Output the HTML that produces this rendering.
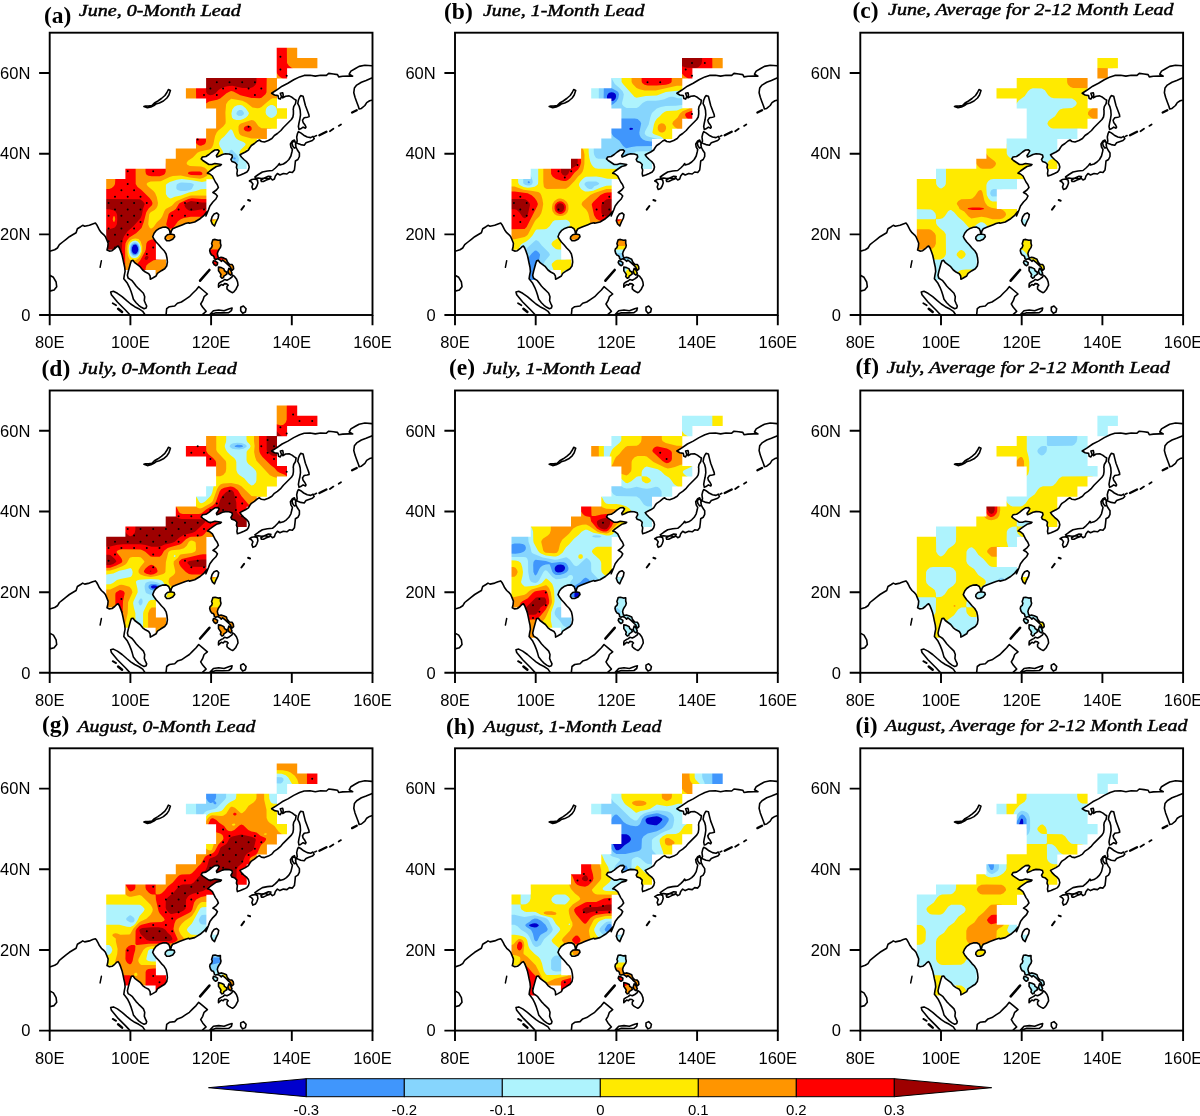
<!DOCTYPE html><html><head><meta charset="utf-8"><title>Figure</title><style>html,body{margin:0;padding:0;background:#fff}svg{display:block}text{font-family:"Liberation Sans",sans-serif;fill:#000}.t{font-family:"Liberation Serif",serif}</style></head><body>
<svg width="1200" height="1116" viewBox="0 0 1200 1116">
<rect width="1200" height="1116" fill="#fff"/>
<defs>
<clipPath id="land"><path d="M-0,218.6 5,217 7.7,215.3 9.7,212 13,209.3 16.4,206.6 19.7,204 23,202 26.4,200 27.7,196 31,194 33,192.6 35,193.6 39.7,192.6 43,191.3 45.7,190.4 47,192 48.4,194.6 49.7,197.3 51.7,200 54.4,202.4 55.7,204 56.8,206.6 58.4,210.6 58.1,214 57.3,217.3 59.7,218.4 62.4,218 65,216 67,214 68.4,213.3 69.7,215.3 71,218.6 72.4,222.6 73.3,226.6 74.1,230.6 75,234.6 75.4,238.6 74.6,242.6 74.1,246 75.7,248 77.7,250.6 79.7,254.6 81.3,258.6 82.6,262.6 83.7,266.6 86.4,270 89,272.6 91.7,274.6 94.4,276 96.4,275.3 97,273.3 95.7,270.6 94.6,268 95,264 93.7,260.6 91.7,258.6 89,256 86.4,253.3 84.4,250.6 82.4,248 80.4,246.6 78.4,245.3 77.7,242.6 78.6,238.6 79.7,234.6 80.8,230.6 81.7,228 83.4,227.7 85,230 87.7,232 90.4,234 93,237.3 95.7,239.3 99,241 100.4,243.3 100.6,246.6 103,245.3 106.4,243.3 107.7,240.6 111.7,238 115,236 117,233.3 117.7,229.3 117.3,225.3 116.4,221.3 114.4,218 111.7,215.3 109,212 106.4,209.3 104.4,206.6 103,204 104.4,200.6 106.4,198 109.7,195.7 113,194.6 116.4,194.4 119,196 120.1,198.6 120.4,200.9 121.3,200 121.7,198 123,196 126.4,194.6 129.7,193.3 133,192 135.7,190.9 139,190 139.7,190.6 145,189.3 150.4,186 154.4,182.6 157.7,178.6 156.2,183.3 158.7,177.3 160.2,173.3 163.2,169.3 166.2,166.3 167.7,163.3 165.9,161.3 163.2,159.8 166.7,157.3 168.7,154.8 167.5,151.8 165.7,149.3 164.2,146.3 162.7,143.3 160.2,141.3 157.7,140.5 160.2,138.3 163.7,135.8 166.7,133.8 170.7,132.8 171.7,131.8 168.7,131.3 165.2,130.8 162.2,131.8 159.2,131.8 156.2,129.8 153.2,127.8 151.5,126.3 152.7,124.3 156.2,123.8 159.2,121.8 162.2,119.3 165.2,117.3 168.2,117.1 169.5,118.3 168.2,120.8 166.7,122.8 167.2,124.3 169.7,123.3 172.7,121.8 175.7,121.1 179.2,121.3 182.2,122.3 182.7,124.3 181.2,126.8 182.2,128.8 185.2,129.8 187.2,131.8 186.7,134.8 187.7,137.3 187.2,140.8 187.7,143.3 190.7,142.3 194.2,140.8 197.2,139.3 198.7,137.3 199.5,134.3 198.7,131.3 196.7,128.8 194.2,126.8 191.7,124.3 190.2,122.1 192.7,120.8 195.7,119.3 198.7,117.3 200.2,114.8 201.7,112.8 204.7,110.8 207.7,108.3 209.7,107.3 211.7,108.8 214.7,109.3 218.7,107.8 222.2,105.8 224.7,102.8 227.7,100.8 231.2,97.8 233.7,94.8 236.2,92.3 238.7,89.8 241.7,86.8 243.2,84.3 243.7,81.3 243.7,77.3 243.5,76.9 244,74 245.8,71 246.4,67.5 244.6,66.4 242.3,64.6 239.4,63.2 235.9,63.5 233,65.2 233.5,62.3 233,60 230.6,60.5 231.8,64 230.6,66.4 228.9,65.8 228.3,62.9 224.8,62.3 221.9,60.5 226.5,57.6 232.4,53.5 238.2,50.6 244,47.1 249.9,44.2 254.5,42.7 260.4,42.5 265.6,43.4 270.9,42.5 276.7,42.7 279,40.7 283.7,41.3 287.8,41.9 289,44.2 293,43.6 298.9,43.4 303,43.4 299.5,41.5 301.2,38.4 305.3,36 309.4,33.7 315.2,32.5 322,33.1 324.8,33.1 324.8,-2 -2,-2 -2,218.6ZM115.7,204 117.7,202 121,201.3 124.4,202 125,204 123,206.6 119.7,208 117,208 115.4,206ZM167,180.2 169,182 168.4,185.3 166.4,189.3 164.8,193.3 162.6,191.3 161.3,188 162.4,184 164.4,181.3ZM163.2,207 165.4,206.7 168.5,207.6 170.7,207.3 170.7,210.5 171.3,212.7 170.7,214.9 169.4,216.7 168.2,218.9 167.6,221.1 168.2,223.6 169.1,225.2 171.3,224.6 173.8,225.2 176.7,226.5 177.3,228.3 178.2,229.9 179.8,231.5 182.3,231.8 183.6,233.7 183.9,236.2 182.6,237.4 181.4,236.2 180.7,234.3 179.2,233 177.6,231.5 176,229.9 174.5,228.6 172.9,227.4 171.6,228.6 170.4,227.4 167.9,226.1 166,226.8 164.7,226.1 164.4,224.3 163.5,223 161.9,222.4 160.7,220.5 160,218 160.4,216.1 161.9,214.9 162.6,212.7 161.9,211.1 162.6,208.9ZM163.8,228 166,228.6 167.9,229.9 167.6,232.1 166,233 164.4,231.8 163.2,229.9ZM168.8,234.3 171.6,234.9 174.2,236.2 174.8,238.1 176.7,239.3 177.3,241.2 175.7,242.4 174.2,243.4 173.8,244.9 172.3,245.6 170.7,243.7 171.3,241.8 170.1,239.9 168.8,238.1ZM179.2,235.5 181,237.4 182.3,240.6 181,242.4 179.2,241.2 178.2,238.7Z"/></clipPath>
<clipPath id="fr"><rect x="0" y="0" width="322.8" height="282.3"/></clipPath>
<g id="coast" fill="none" stroke="#000" stroke-linejoin="round" stroke-linecap="round"><path d="M-0,218.6 5,217 7.7,215.3 9.7,212 13,209.3 16.4,206.6 19.7,204 23,202 26.4,200 27.7,196 31,194 33,192.6 35,193.6 39.7,192.6 43,191.3 45.7,190.4 47,192 48.4,194.6 49.7,197.3 51.7,200 54.4,202.4 55.7,204 56.8,206.6 58.4,210.6 58.1,214 57.3,217.3 59.7,218.4 62.4,218 65,216 67,214 68.4,213.3 69.7,215.3 71,218.6 72.4,222.6 73.3,226.6 74.1,230.6 75,234.6 75.4,238.6 74.6,242.6 74.1,246 75.7,248 77.7,250.6 79.7,254.6 81.3,258.6 82.6,262.6 83.7,266.6 86.4,270 89,272.6 91.7,274.6 94.4,276 96.4,275.3 97,273.3 95.7,270.6 94.6,268 95,264 93.7,260.6 91.7,258.6 89,256 86.4,253.3 84.4,250.6 82.4,248 80.4,246.6 78.4,245.3 77.7,242.6 78.6,238.6 79.7,234.6 80.8,230.6 81.7,228 83.4,227.7 85,230 87.7,232 90.4,234 93,237.3 95.7,239.3 99,241 100.4,243.3 100.6,246.6 103,245.3 106.4,243.3 107.7,240.6 111.7,238 115,236 117,233.3 117.7,229.3 117.3,225.3 116.4,221.3 114.4,218 111.7,215.3 109,212 106.4,209.3 104.4,206.6 103,204 104.4,200.6 106.4,198 109.7,195.7 113,194.6 116.4,194.4 119,196 120.1,198.6 120.4,200.9 121.3,200 121.7,198 123,196 126.4,194.6 129.7,193.3 133,192 135.7,190.9 139,190 139.7,190.6 145,189.3 150.4,186 154.4,182.6 157.7,178.6 156.2,183.3 158.7,177.3 160.2,173.3 163.2,169.3 166.2,166.3 167.7,163.3 165.9,161.3 163.2,159.8 166.7,157.3 168.7,154.8 167.5,151.8 165.7,149.3 164.2,146.3 162.7,143.3 160.2,141.3 157.7,140.5 160.2,138.3 163.7,135.8 166.7,133.8 170.7,132.8 171.7,131.8 168.7,131.3 165.2,130.8 162.2,131.8 159.2,131.8 156.2,129.8 153.2,127.8 151.5,126.3 152.7,124.3 156.2,123.8 159.2,121.8 162.2,119.3 165.2,117.3 168.2,117.1 169.5,118.3 168.2,120.8 166.7,122.8 167.2,124.3 169.7,123.3 172.7,121.8 175.7,121.1 179.2,121.3 182.2,122.3 182.7,124.3 181.2,126.8 182.2,128.8 185.2,129.8 187.2,131.8 186.7,134.8 187.7,137.3 187.2,140.8 187.7,143.3 190.7,142.3 194.2,140.8 197.2,139.3 198.7,137.3 199.5,134.3 198.7,131.3 196.7,128.8 194.2,126.8 191.7,124.3 190.2,122.1 192.7,120.8 195.7,119.3 198.7,117.3 200.2,114.8 201.7,112.8 204.7,110.8 207.7,108.3 209.7,107.3 211.7,108.8 214.7,109.3 218.7,107.8 222.2,105.8 224.7,102.8 227.7,100.8 231.2,97.8 233.7,94.8 236.2,92.3 238.7,89.8 241.7,86.8 243.2,84.3 243.7,81.3 243.7,77.3 243.5,76.9 244,74 245.8,71 246.4,67.5 244.6,66.4 242.3,64.6 239.4,63.2 235.9,63.5 233,65.2 233.5,62.3 233,60 230.6,60.5 231.8,64 230.6,66.4 228.9,65.8 228.3,62.9 224.8,62.3 221.9,60.5 226.5,57.6 232.4,53.5 238.2,50.6 244,47.1 249.9,44.2 254.5,42.7 260.4,42.5 265.6,43.4 270.9,42.5 276.7,42.7 279,40.7 283.7,41.3 287.8,41.9 289,44.2 293,43.6 298.9,43.4 303,43.4 299.5,41.5 301.2,38.4 305.3,36 309.4,33.7 315.2,32.5 322,33.1M-0,242.6 3.7,244.6 6.4,249.3 7,254 4.4,257.3 -0,258.4ZM115.7,204 117.7,202 121,201.3 124.4,202 125,204 123,206.6 119.7,208 117,208 115.4,206ZM167,180.2 169,182 168.4,185.3 166.4,189.3 164.8,193.3 162.6,191.3 161.3,188 162.4,184 164.4,181.3ZM191,274.6 193.7,273.3 196.4,276 195.7,279.3 193,280.6 191,278ZM94.2,73.8 97.7,75.1 101.2,74.3 104.2,72.8 106.2,71.3 109.7,70.3 113.7,68.3 117.2,65.3 119.2,62.3 120.7,57.8 118.7,56.8 117.2,59.8 115.2,62.8 111.7,65.8 108.2,68.3 104.7,70.3 102.2,72.8 98.7,73.3 95.7,73.3ZM251,62.9 253.4,63.5 254.5,68.1 255.7,72.8 257.5,77.5 259.2,82.1 259.4,83.9 257.5,84.5 254.5,85 252.8,87.4 253.4,89.7 255.1,92 256.3,94.4 255.7,95.5 253.4,94.4 251,96.1 249.3,96.7 248.7,93.8 249.3,90.3 250.1,86.8 250.8,82.1 250.5,77.5 249.6,74 248.1,71 248.7,67.5 249.9,64.6ZM199.7,148.3 202.2,146.8 205.2,146.3 207.7,147.3 208.2,150.3 207.2,153.3 205.7,155.8 203.2,156.8 202.2,154.3 203.2,151.3 201.7,149.3ZM211.2,147.3 214.2,145.5 218.7,143.5 221.2,143.8 219.7,146.3 216.7,147.3 213.7,148.8 211.7,148.8ZM205.2,144.3 208.7,141.8 212.7,139.3 217.7,138.3 222.7,137.8 225.7,135.3 228.2,132.8 229.7,130.8 230.2,132.3 233.7,131.3 236.7,129.3 239.2,126.8 241.2,123.3 242.2,119.3 242.7,116.8 241.2,114.3 240.7,111.3 242.7,108.3 244.7,107.3 245.9,110.3 246.2,114.3 247.7,117.3 249.7,120.3 249.7,123.8 248.2,126.8 245.7,128.3 245.2,133.3 244.7,137.3 242.7,139.8 239.7,139.3 237.2,141.3 233.7,140.8 230.2,142.3 227.7,140.8 225.7,143.3 224.7,146.3 222.7,147.3 220.7,145.3 218.7,146.3 215.7,145.3 211.7,145.8 208.7,145.3 206.2,145.5ZM248.7,99 251,100.2 254,102.5 257.5,104.3 261,104.9 263.3,103.7 264.5,106 262.7,107.8 259.2,109 256.3,110.1 254.5,112.5 251,111.9 248.1,110.7 245.8,109.5 244,108.4 242.3,110.1 242.9,113 244.6,115.4 246.4,114.8 245.8,111.9 247.5,108.4 247,104.3 247.8,100.8ZM163.2,207 165.4,206.7 168.5,207.6 170.7,207.3 170.7,210.5 171.3,212.7 170.7,214.9 169.4,216.7 168.2,218.9 167.6,221.1 168.2,223.6 169.1,225.2 171.3,224.6 173.8,225.2 176.7,226.5 177.3,228.3 178.2,229.9 179.8,231.5 182.3,231.8 183.6,233.7 183.9,236.2 182.6,237.4 181.4,236.2 180.7,234.3 179.2,233 177.6,231.5 176,229.9 174.5,228.6 172.9,227.4 171.6,228.6 170.4,227.4 167.9,226.1 166,226.8 164.7,226.1 164.4,224.3 163.5,223 161.9,222.4 160.7,220.5 160,218 160.4,216.1 161.9,214.9 162.6,212.7 161.9,211.1 162.6,208.9ZM163.8,228 166,228.6 167.9,229.9 167.6,232.1 166,233 164.4,231.8 163.2,229.9ZM168.8,234.3 171.6,234.9 174.2,236.2 174.8,238.1 176.7,239.3 177.3,241.2 175.7,242.4 174.2,243.4 173.8,244.9 172.3,245.6 170.7,243.7 171.3,241.8 170.1,239.9 168.8,238.1ZM179.2,235.5 181,237.4 182.3,240.6 181,242.4 179.2,241.2 178.2,238.7ZM169.1,250.6 171,249.3 173.5,248.1 174.8,246.8 177.3,247.5 179.8,246.2 182.3,244.3 182.9,242.4 184.8,243.7 186.7,246.2 187.9,249.3 188.3,252.5 187,255 186.1,256.9 184.2,259.1 182.9,260 181,259.1 178.9,257.8 177.3,256.2 177.3,253.7 178.5,252.5 177,251.2 174.8,250.9 173.5,252.5 171.6,251.8 170.1,253.1 168.8,254.4 168.8,252.2ZM79.7,281.6 75.7,277.3 71.7,273.3 67.7,269.3 64.4,265.3 61.7,262 61,259.3 63.7,258.6 67.7,260.6 72.4,264 77,268 81,271.3 85,274 89,276 93,278.6 95,281.6M116.4,281.6 117,276 119.7,274 125,273.3 127.7,270.6 131.7,269.3 135.7,266.6 139.7,264 143,260.6 146.4,257.3 149,254 149,254 153,257.3 157.7,261.3 154.4,264 153,268 151,271.3 153,274.6 156.4,278.6 153,281.6M160.4,281.6 163.7,278 169,277.3 174.4,278 179.7,276 182.4,275.3 181.7,278 179,280 173,280.2 166.4,280 161.7,281.6M322,45.4 316.4,47.7 311.7,49.5 307,52.4 304.7,55.3 304.1,60 305.3,64.6 307,69.3 308.8,74 309.4,76.3 311.7,75.7 315.2,72.8 317,69.9 319.9,68.1 322,67.5" stroke-width="1.6"/><path d="M51.7,228 50.4,234.6" stroke-width="1.5"/><path d="M63,270.6 66.4,272.6" stroke-width="1.8"/><path d="M68.4,276 72.4,279.3" stroke-width="2.5"/><path d="M150.4,248 159.7,237.3" stroke-width="2.6"/><path d="M198.4,167.3 200.4,168" stroke-width="2"/><path d="M191.7,177 194.4,173.3" stroke-width="2"/><path d="M302.4,79.8 307,77.5" stroke-width="2.4"/><path d="M289,93.2 291.3,91.8" stroke-width="1.8"/><path d="M280.2,98.5 283.7,96.1" stroke-width="1.8"/><path d="M269.7,102.5 276.7,99" stroke-width="2.4"/><path d="M265,103.7 266.8,102.8" stroke-width="1.6"/></g>
<mask id="m0" maskUnits="userSpaceOnUse" x="0" y="0" width="322.8" height="282.3"><path fill="#fff" d="M227,15.1h20.5v10.4h-20.5zM227,25.2h40.7v10.4h-40.7zM227,35.3h10.4v10.4h-10.4zM156.4,45.4h70.9v10.4h-70.9zM136.2,55.5h91.1v10.4h-91.1zM156.4,65.5h70.9v10.4h-70.9zM166.4,75.6h70.9v10.4h-70.9zM166.4,85.7h60.8v10.4h-60.8zM156.4,95.8h60.8v10.4h-60.8zM146.3,105.9h60.8v10.4h-60.8zM126.1,115.9h70.9v10.4h-70.9zM116,126h81v10.4h-81zM75.7,136.1h91.1v10.4h-91.1zM56.5,146.2h100.2v10.4h-100.2zM56.5,156.3h100.2v10.4h-100.2zM56.5,166.4h100.2v10.4h-100.2zM56.5,176.4h100.2v10.4h-100.2zM56.5,186.5h120.3v10.4h-120.3zM56.5,196.6h69.9v10.4h-69.9zM56.5,206.7h49.7v10.4h-49.7zM156.4,206.7h20.5v10.4h-20.5zM65.6,216.8h40.6v10.4h-40.6zM156.4,216.8h20.5v10.4h-20.5zM65.6,226.9h50.7v10.4h-50.7zM156.4,226.9h30.6v10.4h-30.6zM105.9,236.9h10.4v10.4h-10.4zM166.4,236.9h20.5v10.4h-20.5z"/></mask>
<mask id="m1" maskUnits="userSpaceOnUse" x="0" y="0" width="322.8" height="282.3"><path fill="#fff" d="M227,25.2h40.7v10.4h-40.7zM227,35.3h10.4v10.4h-10.4zM156.4,45.4h70.9v10.4h-70.9zM136.2,55.5h91.1v10.4h-91.1zM156.4,65.5h70.9v10.4h-70.9zM166.4,75.6h70.9v10.4h-70.9zM166.4,85.7h60.8v10.4h-60.8zM156.4,95.8h60.8v10.4h-60.8zM146.3,105.9h50.7v10.4h-50.7zM126.1,115.9h70.9v10.4h-70.9zM116,126h81v10.4h-81zM75.7,136.1h91.1v10.4h-91.1zM56.5,146.2h100.2v10.4h-100.2zM56.5,156.3h100.2v10.4h-100.2zM56.5,166.4h100.2v10.4h-100.2zM56.5,176.4h100.2v10.4h-100.2zM56.5,186.5h120.3v10.4h-120.3zM56.5,196.6h69.9v10.4h-69.9zM56.5,206.7h49.7v10.4h-49.7zM156.4,206.7h20.5v10.4h-20.5zM65.6,216.8h40.6v10.4h-40.6zM156.4,216.8h20.5v10.4h-20.5zM65.6,226.9h50.7v10.4h-50.7zM156.4,226.9h30.6v10.4h-30.6zM65.6,236.9h20.5v10.4h-20.5zM105.9,236.9h10.4v10.4h-10.4zM166.4,236.9h20.5v10.4h-20.5z"/></mask>
<mask id="m2" maskUnits="userSpaceOnUse" x="0" y="0" width="322.8" height="282.3"><path fill="#fff" d="M237.1,25.2h20.5v10.4h-20.5zM237.1,35.3h10.4v10.4h-10.4zM156.4,45.4h70.9v10.4h-70.9zM136.2,55.5h91.1v10.4h-91.1zM156.4,65.5h70.9v10.4h-70.9zM166.4,75.6h70.9v10.4h-70.9zM166.4,85.7h60.8v10.4h-60.8zM166.4,95.8h50.7v10.4h-50.7zM146.3,105.9h50.7v10.4h-50.7zM126.1,115.9h70.9v10.4h-70.9zM116,126h81v10.4h-81zM75.7,136.1h91.1v10.4h-91.1zM56.5,146.2h100.2v10.4h-100.2zM56.5,156.3h80v10.4h-80zM56.5,166.4h80v10.4h-80zM56.5,176.4h100.2v10.4h-100.2zM56.5,186.5h120.3v10.4h-120.3zM56.5,196.6h69.9v10.4h-69.9zM56.5,206.7h59.8v10.4h-59.8zM156.4,206.7h20.5v10.4h-20.5zM65.6,216.8h50.7v10.4h-50.7zM156.4,216.8h20.5v10.4h-20.5zM65.6,226.9h50.7v10.4h-50.7zM156.4,226.9h30.6v10.4h-30.6zM65.6,236.9h20.5v10.4h-20.5zM95.8,236.9h20.5v10.4h-20.5zM166.4,236.9h20.5v10.4h-20.5z"/></mask>
<mask id="m3" maskUnits="userSpaceOnUse" x="0" y="0" width="322.8" height="282.3"><path fill="#fff" d="M227,15.1h20.5v10.4h-20.5zM227,25.2h40.7v10.4h-40.7zM227,35.3h10.4v10.4h-10.4zM156.4,45.4h70.9v10.4h-70.9zM136.2,55.5h91.1v10.4h-91.1zM156.4,65.5h70.9v10.4h-70.9zM166.4,75.6h70.9v10.4h-70.9zM166.4,85.7h60.8v10.4h-60.8zM156.4,95.8h60.8v10.4h-60.8zM146.3,105.9h60.8v10.4h-60.8zM126.1,115.9h70.9v10.4h-70.9zM116,126h81v10.4h-81zM75.7,136.1h91.1v10.4h-91.1zM56.5,146.2h100.2v10.4h-100.2zM56.5,156.3h100.2v10.4h-100.2zM56.5,166.4h100.2v10.4h-100.2zM56.5,176.4h100.2v10.4h-100.2zM56.5,186.5h120.3v10.4h-120.3zM56.5,196.6h69.9v10.4h-69.9zM56.5,206.7h49.7v10.4h-49.7zM156.4,206.7h20.5v10.4h-20.5zM65.6,216.8h40.6v10.4h-40.6zM156.4,216.8h20.5v10.4h-20.5zM65.6,226.9h50.7v10.4h-50.7zM156.4,226.9h30.6v10.4h-30.6zM105.9,236.9h10.4v10.4h-10.4zM166.4,236.9h20.5v10.4h-20.5z"/></mask>
<mask id="m4" maskUnits="userSpaceOnUse" x="0" y="0" width="322.8" height="282.3"><path fill="#fff" d="M227,25.2h40.7v10.4h-40.7zM227,35.3h10.4v10.4h-10.4zM156.4,45.4h70.9v10.4h-70.9zM136.2,55.5h91.1v10.4h-91.1zM156.4,65.5h70.9v10.4h-70.9zM166.4,75.6h70.9v10.4h-70.9zM166.4,85.7h60.8v10.4h-60.8zM156.4,95.8h60.8v10.4h-60.8zM146.3,105.9h50.7v10.4h-50.7zM126.1,115.9h70.9v10.4h-70.9zM116,126h81v10.4h-81zM75.7,136.1h91.1v10.4h-91.1zM56.5,146.2h100.2v10.4h-100.2zM56.5,156.3h100.2v10.4h-100.2zM56.5,166.4h100.2v10.4h-100.2zM56.5,176.4h100.2v10.4h-100.2zM56.5,186.5h120.3v10.4h-120.3zM56.5,196.6h69.9v10.4h-69.9zM56.5,206.7h49.7v10.4h-49.7zM156.4,206.7h20.5v10.4h-20.5zM65.6,216.8h40.6v10.4h-40.6zM156.4,216.8h20.5v10.4h-20.5zM65.6,226.9h50.7v10.4h-50.7zM156.4,226.9h30.6v10.4h-30.6zM65.6,236.9h20.5v10.4h-20.5zM105.9,236.9h10.4v10.4h-10.4zM166.4,236.9h20.5v10.4h-20.5z"/></mask>
<mask id="m5" maskUnits="userSpaceOnUse" x="0" y="0" width="322.8" height="282.3"><path fill="#fff" d="M237.1,25.2h20.5v10.4h-20.5zM237.1,35.3h10.4v10.4h-10.4zM156.4,45.4h70.9v10.4h-70.9zM136.2,55.5h91.1v10.4h-91.1zM156.4,65.5h70.9v10.4h-70.9zM166.4,75.6h70.9v10.4h-70.9zM166.4,85.7h60.8v10.4h-60.8zM166.4,95.8h50.7v10.4h-50.7zM146.3,105.9h50.7v10.4h-50.7zM126.1,115.9h70.9v10.4h-70.9zM116,126h81v10.4h-81zM75.7,136.1h91.1v10.4h-91.1zM56.5,146.2h100.2v10.4h-100.2zM56.5,156.3h80v10.4h-80zM56.5,166.4h80v10.4h-80zM56.5,176.4h100.2v10.4h-100.2zM56.5,186.5h120.3v10.4h-120.3zM56.5,196.6h69.9v10.4h-69.9zM56.5,206.7h59.8v10.4h-59.8zM156.4,206.7h20.5v10.4h-20.5zM65.6,216.8h50.7v10.4h-50.7zM156.4,216.8h20.5v10.4h-20.5zM65.6,226.9h50.7v10.4h-50.7zM156.4,226.9h30.6v10.4h-30.6zM65.6,236.9h20.5v10.4h-20.5zM95.8,236.9h20.5v10.4h-20.5zM166.4,236.9h20.5v10.4h-20.5z"/></mask>
<mask id="m6" maskUnits="userSpaceOnUse" x="0" y="0" width="322.8" height="282.3"><path fill="#fff" d="M227,15.1h20.5v10.4h-20.5zM227,25.2h40.7v10.4h-40.7zM227,35.3h10.4v10.4h-10.4zM156.4,45.4h70.9v10.4h-70.9zM136.2,55.5h91.1v10.4h-91.1zM156.4,65.5h70.9v10.4h-70.9zM166.4,75.6h70.9v10.4h-70.9zM166.4,85.7h60.8v10.4h-60.8zM156.4,95.8h60.8v10.4h-60.8zM146.3,105.9h60.8v10.4h-60.8zM126.1,115.9h70.9v10.4h-70.9zM116,126h81v10.4h-81zM75.7,136.1h91.1v10.4h-91.1zM56.5,146.2h100.2v10.4h-100.2zM56.5,156.3h100.2v10.4h-100.2zM56.5,166.4h100.2v10.4h-100.2zM56.5,176.4h100.2v10.4h-100.2zM56.5,186.5h120.3v10.4h-120.3zM56.5,196.6h69.9v10.4h-69.9zM56.5,206.7h49.7v10.4h-49.7zM156.4,206.7h20.5v10.4h-20.5zM65.6,216.8h40.6v10.4h-40.6zM156.4,216.8h20.5v10.4h-20.5zM65.6,226.9h50.7v10.4h-50.7zM156.4,226.9h30.6v10.4h-30.6zM105.9,236.9h10.4v10.4h-10.4zM166.4,236.9h20.5v10.4h-20.5z"/></mask>
<mask id="m7" maskUnits="userSpaceOnUse" x="0" y="0" width="322.8" height="282.3"><path fill="#fff" d="M227,25.2h40.7v10.4h-40.7zM227,35.3h10.4v10.4h-10.4zM156.4,45.4h70.9v10.4h-70.9zM136.2,55.5h91.1v10.4h-91.1zM156.4,65.5h70.9v10.4h-70.9zM166.4,75.6h70.9v10.4h-70.9zM166.4,85.7h60.8v10.4h-60.8zM156.4,95.8h60.8v10.4h-60.8zM146.3,105.9h50.7v10.4h-50.7zM126.1,115.9h70.9v10.4h-70.9zM116,126h81v10.4h-81zM75.7,136.1h91.1v10.4h-91.1zM56.5,146.2h100.2v10.4h-100.2zM56.5,156.3h100.2v10.4h-100.2zM56.5,166.4h100.2v10.4h-100.2zM56.5,176.4h100.2v10.4h-100.2zM56.5,186.5h120.3v10.4h-120.3zM56.5,196.6h69.9v10.4h-69.9zM56.5,206.7h49.7v10.4h-49.7zM156.4,206.7h20.5v10.4h-20.5zM65.6,216.8h40.6v10.4h-40.6zM156.4,216.8h20.5v10.4h-20.5zM65.6,226.9h50.7v10.4h-50.7zM156.4,226.9h30.6v10.4h-30.6zM65.6,236.9h20.5v10.4h-20.5zM105.9,236.9h10.4v10.4h-10.4zM166.4,236.9h20.5v10.4h-20.5z"/></mask>
<mask id="m8" maskUnits="userSpaceOnUse" x="0" y="0" width="322.8" height="282.3"><path fill="#fff" d="M237.1,25.2h20.5v10.4h-20.5zM237.1,35.3h10.4v10.4h-10.4zM156.4,45.4h70.9v10.4h-70.9zM136.2,55.5h91.1v10.4h-91.1zM156.4,65.5h70.9v10.4h-70.9zM166.4,75.6h70.9v10.4h-70.9zM166.4,85.7h60.8v10.4h-60.8zM166.4,95.8h50.7v10.4h-50.7zM146.3,105.9h50.7v10.4h-50.7zM126.1,115.9h70.9v10.4h-70.9zM116,126h81v10.4h-81zM75.7,136.1h91.1v10.4h-91.1zM56.5,146.2h100.2v10.4h-100.2zM56.5,156.3h80v10.4h-80zM56.5,166.4h80v10.4h-80zM56.5,176.4h100.2v10.4h-100.2zM56.5,186.5h120.3v10.4h-120.3zM56.5,196.6h69.9v10.4h-69.9zM56.5,206.7h59.8v10.4h-59.8zM156.4,206.7h20.5v10.4h-20.5zM65.6,216.8h50.7v10.4h-50.7zM156.4,216.8h20.5v10.4h-20.5zM65.6,226.9h50.7v10.4h-50.7zM156.4,226.9h30.6v10.4h-30.6zM65.6,236.9h20.5v10.4h-20.5zM95.8,236.9h20.5v10.4h-20.5zM166.4,236.9h20.5v10.4h-20.5z"/></mask>
</defs>
<g transform="translate(49.7,32.7)"><g clip-path="url(#land)"><g mask="url(#m0)"><rect x="0" y="0" width="322.8" height="282.3" fill="#0000cd"/><path d="M50.4,10.1 272.4,10.1 272.4,252.1 50.4,252.1 50.4,10.1ZM83.7,212.4 82.3,214.8 82.1,217.8 82.7,219.5 83.7,220.8 85.7,221.2 86.8,220.8 88.1,218.8 88.5,216.8 88.2,214.8 86.8,212.4 85.7,211.9 83.7,212.4Z" fill="#4096fc" fill-rule="evenodd"/><path d="M50.4,10.1 272.4,10.1 272.4,252.1 50.4,252.1 50.4,10.1ZM84.7,210.7 82.7,211.7 81.9,212.7 81.2,214.8 81.1,217.8 81.6,219.8 82.7,221.5 83.7,222.2 85.7,222.5 87.8,221.3 88.7,219.8 89.3,217.8 89.3,215.8 88.9,213.7 87.8,211.8 86.8,211 84.7,210.7ZM184.6,124.5 183.6,125 183.5,126 184.6,126.8 185.6,126.6 186,126 185.8,125 184.6,124.5Z" fill="#86d5fd" fill-rule="evenodd"/><path d="M50.4,10.1 272.4,10.1 272.4,252.1 50.4,252.1 50.4,10.1ZM83.7,209.6 81.7,211 80.7,212.7 80.1,215.8 80.3,218.8 80.8,220.8 82.2,222.8 83.7,223.7 85.7,223.8 87.8,222.8 89.3,220.8 90.2,217.8 90.1,214.8 89,211.7 87.8,210.2 85.7,209.4 83.7,209.6ZM130.1,150 127.6,151.2 126.9,152.2 126.6,155.3 126.9,156.3 127.9,157.3 131.1,158.4 136.2,158.2 140.2,157.2 142.1,156.3 144.1,152.2 143.8,151.2 141.2,150.2 132.1,149.7 130.1,150ZM180.6,117.5 179.3,120 178.9,123 179.1,149.2 179.4,151.2 180.1,152.2 181.6,153.2 182.6,153.3 185.2,152.2 186.5,150.2 186.7,134.1 189,128 189.2,126 188,123 182.6,117.4 181.6,117 180.6,117.5ZM189.6,77.4 187.7,78.6 187,79.7 186.7,80.7 187,81.7 188.6,83.1 191.7,83.3 193.9,81.7 194.3,80.7 194.1,79.7 192.7,77.9 191.7,77.4 189.6,77.4Z" fill="#aef3fd" fill-rule="evenodd"/><path d="M50.4,10.1 272.4,10.1 272.4,158.8 263.3,158.8 259.2,157.7 256.4,155.3 254.4,151.2 252.5,149.2 244.6,147.2 241.1,145.6 239.1,144 235,139.1 232,136.6 230,136.1 222.9,136.1 220.9,135.5 218.9,133.9 215.6,129.1 212.8,126.7 209.8,126 194.7,125.9 192.7,125.1 190.6,122 190,120 190,119 191,117 195.4,112.9 195.9,111.9 195.7,110.9 193.7,109.3 188.6,107.3 186.6,105.9 185.2,103.8 182.7,97.8 181.6,96.8 180.6,96.9 179.6,97.8 174.5,103.7 171.5,106.4 169.9,108.9 169.3,110.9 170.1,113.9 172.9,118 173.9,121 174.1,151.2 175.5,155 177.5,157.1 185.2,160.3 188.8,164.3 191.7,166.1 209.8,166.4 212.8,167 215.6,169.4 218.9,174.3 221.9,176.2 242.1,176.7 245.1,178.6 248.4,183.5 251.2,185.8 253.2,186 257.2,184.8 262.3,184.1 272.4,184 272.4,252.1 50.4,252.1 50.4,10.1ZM82.7,208.5 80.7,210 79.4,212.7 79,215.8 79.2,219.8 80.2,222.8 81.7,224.7 83.7,225.4 85.7,225.4 87.8,224.5 90,221.8 91.1,218.8 91.2,214.8 89.9,210.7 88.1,208.7 85.7,207.8 82.7,208.5ZM127.1,147 120.1,149.2 116.9,151.2 116.2,152.2 116.2,161.3 118,164.2 120,165.6 121.1,165.7 125.1,164.1 131.1,162.8 139.2,159.9 146.2,158.3 151.3,156.6 161.4,156 164.4,154.1 165.7,152.2 165.9,151.2 165.2,149.2 162.4,146.9 161.4,146.8 157.4,148.4 152.3,149.4 142.2,147.6 132.1,146.4 127.1,147ZM187.6,72.6 184.6,74 182.6,76.7 181.7,80.7 182.3,84.7 183.6,86.3 186.6,87.3 190.7,87.2 193.7,86.3 196.3,84.7 198.3,82.7 199.2,80.7 199,79.7 196,75.6 192.7,72.9 190.7,72.2 187.6,72.6ZM220.9,72.3 218.9,73.2 217.3,74.6 216.2,76.6 215.9,79.7 216.5,81.7 217.9,83.2 219.9,84.7 221.9,85.3 223.9,84.6 226.1,82.7 227.2,80.7 227.3,78.6 226.7,75.6 225.3,73.6 222.9,72.3 220.9,72.3Z" fill="#ffea00" fill-rule="evenodd"/><path d="M50.4,10.1 272.4,10.1 272.4,65.5 263.3,65.6 257.2,67.2 252.2,67.9 247.1,67.2 241.1,65.6 222.9,65.6 220.9,66.5 216.9,69.7 211.8,74.4 209.8,75.3 207.8,75.5 202.8,74.9 196.7,70 192.7,68 181.6,66 178.3,68.6 176.4,71.6 175.7,79.7 176,88.7 175.8,90.7 173.5,93.7 168.6,97.8 167,99.8 165.4,103.3 163.6,111.9 162.4,114.6 161.4,115.7 159.4,116.8 150.3,118.8 147.7,120 143.2,124.8 138.3,128 137,130.1 137,131.1 137.7,132.1 140.2,133.3 151.3,133.7 155.1,135.1 157.2,137.1 158.4,139.8 158.4,141.2 157,143.2 153.3,145.4 150.3,146 140.2,144.8 131.1,142.9 123.1,143.4 120,144.2 111,148.5 100.9,148.9 97.8,150 96.8,151.2 97.9,153.3 103.8,158.3 105.4,160.3 107.1,164.3 108.3,170.4 107.9,173 106.8,175.4 104.9,177.3 100.9,179.5 99.5,181.5 98.5,191.6 99.6,194.6 100.9,195.8 101.9,195.8 103.9,194.4 107.2,189.6 111,186 112.6,183.5 114.6,178.5 116,176.4 122.1,173 125.1,169.7 127.1,168.2 135.2,164.7 140.2,163 142.2,162.7 170.5,163 175.5,164.1 178.2,166.4 179.2,168.4 179.8,171.4 179.2,174.4 178.2,176.4 176,178.5 170.5,180.6 168.8,182.5 167.3,185.5 165.2,187.5 163,188.5 160.4,189 141.2,189.2 138.2,190.5 136.9,191.6 136.2,193.6 136.3,210.7 137.6,212.7 140.2,213.9 142.2,213.8 144.4,212.7 149.3,208 152.3,206.8 211.8,206.5 214.9,204.5 219,198.6 221.9,196.8 251.2,196.5 254.2,195.3 257.7,191.6 261.3,189.5 263.3,189.1 272.4,189.1 272.4,252.1 50.4,252.1 50.4,10.1ZM85.7,205.7 82.7,206.3 80.7,207.5 78.9,209.7 77.8,212.7 77.6,217.8 78.2,222.8 79.7,226.5 80.7,227.7 81.7,228.1 85.7,227.6 88.8,225.8 91,222.8 92.5,218.8 92.5,213.7 91,208.7 88.8,206.3 85.7,205.7ZM200.3,87.7 201.8,87.2 204,87.7 205.8,89.3 208.8,93.6 211.8,95.5 220.9,95.8 223.9,97.1 225.7,98.8 229,103.7 234.9,107.9 239.1,113.8 245,118 249.2,123.9 255.1,128 258.5,133.1 260.7,135.1 263.3,136.1 272.4,136.1 272.4,153.7 263.3,153.7 261.3,152.7 260,151.2 258.7,148.2 257.2,146.2 255.2,144.8 250.2,142.8 247.6,141.2 245,138.1 239.1,133.1 234.9,128 229,123.9 224.8,118 218.9,113.8 215.6,108.9 213.5,106.9 210.8,105.9 201.8,105.7 192.7,103.4 190.7,102.3 189.5,100.8 188.8,97.8 188.8,93.8 189.6,92 191.2,90.7 200.3,87.7Z" fill="#ff9500" fill-rule="evenodd"/><path d="M133.6,10.1 237.1,10.1 237.3,30.2 239.1,33.1 245,37.3 246.9,40.3 247.1,55.5 251.2,55.5 253.2,56.1 255.9,58.5 256.4,59.5 256.2,60.5 254.2,62.1 252.2,62.6 249.1,61.5 247.4,59.5 247.1,55.5 243.1,55.4 240.1,54.2 238.3,52.4 235,47.5 229.1,43.4 225,37.5 223.5,36.3 221.9,35.8 220.9,36 219.1,37.3 217.1,40.3 216.8,59.5 215.8,61.5 211.8,65.1 209.8,65.5 201.8,65.3 190.7,62.5 183.6,58.8 181.6,58.3 180.6,58.5 176.8,60.5 170.5,65.9 167.5,67 159.4,68.7 156.6,70.6 153.3,74.3 151.3,75.1 150.3,74.9 148.3,73.5 146.5,70.6 146.2,51.4 143.4,40.3 141.6,38.3 138.2,36.7 136.2,35.3 134.7,33.3 134,31.3 133.7,28.2 133.6,10.1ZM50.4,65.5 68.6,65.5 71.6,66.2 74.4,68.6 77.8,73.6 82.7,76.9 85.1,79.7 85.7,82.7 86,151.2 87.9,154.3 91.8,157.4 99.9,165.4 101.9,168.1 102.8,170.4 102.4,172.4 98.9,175.8 96.6,179.5 94,189.6 91.8,195.3 86.4,200.6 79.6,204.7 77.2,207.7 75.8,210.7 75.4,215.8 75.7,252.1 50.4,252.1 50.4,156.3 59.5,156.2 62.1,155.3 64.3,153.3 65.3,151.2 65.6,146.2 65.5,132.1 64.3,129.1 62.5,127.3 60.5,126.3 50.4,126 50.4,65.5ZM64.6,183.3 63.6,183.7 63,186.5 63.6,188.9 64.6,189.4 65.5,186.5 65.2,184.5 64.6,183.3ZM136.2,85.7 141.2,85.9 143.2,87 145,88.7 148.3,93.6 153.3,97 155.1,98.8 156.3,101.8 156.3,108.9 155.6,110.9 154.5,111.9 151.3,113.1 149.3,112.8 147.7,111.9 143.2,107.1 138.2,103.7 134,97.8 129.1,94.5 127.4,92.8 126.6,90.7 126.8,89.7 129.1,87 131.1,85.9 136.2,85.7ZM195.4,93.8 197.7,92.9 200.7,93.4 201.9,94.8 202,96.8 201.3,97.8 199.7,98.7 197.7,98.9 195.7,98.4 194.2,96.8 194.1,95.8 194.4,94.8 195.4,93.8ZM99.3,117 100.9,116.4 102.9,117.2 104.7,119 107.9,123.9 113,127.3 115.4,130.1 115.9,132.1 116,139.1 115.1,141.2 113.7,142.2 110,143.6 101.9,143.6 98.9,143 97.3,142.2 96.3,141.2 95.8,139.1 95.9,122 97.1,119 99.3,117ZM139.8,139.1 142.2,138.7 150.3,138.8 152.3,139.8 152.8,141.2 151.8,142.2 150.3,142.6 141.3,142.2 138.5,141.2 138.2,140.1 139.8,139.1ZM138.6,166.4 142.2,165.5 152.3,166.3 170.5,166.4 172.5,167 174.4,168.4 175.5,169.8 176,171.4 175.2,173.4 173.5,175.2 167.2,178.5 161.4,183.6 159.4,184 141.2,184.1 134.2,185.4 131.1,186.5 128.3,188.5 124.8,193.6 123.1,195.3 121.1,196.1 119,195.3 117.3,193.6 116.5,191.6 119,181.2 120.7,179.5 124.1,177.9 126.1,176.4 129.1,171.4 130.2,170.4 138.6,166.4ZM99.3,207.7 101.9,206.8 108.9,206.7 111,206.9 113,208 114.7,209.7 115.8,211.7 115.8,221.8 114.7,223.8 112,226.2 103.9,227.5 98.7,230.9 96.7,232.9 95.9,235.9 95.8,252.1 85.7,252.1 85.8,235.9 86.2,232.9 90.4,227.9 95.4,218.8 96.1,216.8 96.7,210.7 97.8,208.9 99.3,207.7ZM156.4,216.8 180.6,216.8 182.6,217.4 184.5,218.8 185.6,220.3 186.1,221.8 185.3,223.8 182.6,226.2 180.6,226.8 171.5,227.1 169.5,228.1 167.5,230.3 166.7,231.9 166.5,233.9 166.4,252.1 136.2,252.1 136.2,223.8 136.7,221.8 137.6,220.8 140.2,219.6 146.3,218.5 151.3,217 156.4,216.8Z" fill="#ff0000" fill-rule="evenodd"/><path d="M138.7,10.1 206.8,10.1 206.8,48.4 206.6,50.4 205.8,52 203.4,54.4 200.7,55.4 192.7,55.4 182.6,53.1 177.5,53.6 173.5,54.6 170.5,56 168.5,57.6 165.9,60.5 163.4,62.1 160.4,62.6 157.8,61.5 156.5,59.5 156.3,51.4 155.7,49.4 150.3,43.5 147.7,37.3 146.3,35.3 144.3,33.8 140.9,32.3 139.1,30.2 138.7,28.2 138.7,10.1ZM50.4,166.4 89.8,166.5 90.8,166.8 92.8,168.4 94.6,170.4 95,171.4 93.3,176.4 92.1,182.5 90.8,185.5 83.7,193.6 77.7,198.8 74.2,203.7 73.1,206.7 72.4,210.7 71.9,222.8 70.6,225.8 69.6,226.6 50.4,226.9 50.4,196.6 59.5,196.6 64.6,195.1 66.1,193.6 67.1,191.6 67.6,186.5 67.4,182.5 66.8,180.5 65.6,178.5 64.6,177.7 59.5,176.5 50.4,176.4 50.4,166.4ZM141.2,168.4 152.3,169.8 169.5,169.9 171.5,170.3 172.1,171.4 171.6,172.4 170.5,173 165.4,174.2 160.4,176.3 152.3,176.5 145.3,177.9 141.2,178.3 139.2,177.8 137.1,176.4 135.4,174.4 134.7,172.4 135.2,171.4 136.4,170.4 141.2,168.4ZM95.7,223.8 96.8,223.3 97.8,223.3 98.6,223.8 98.9,224.8 97.8,226.8 96.8,227.2 95.3,226.9 94.8,225.8 95.7,223.8Z" fill="#9e0000" fill-rule="evenodd"/></g></g><g clip-path="url(#land)"><path d="M230.7,24h0M230.7,36.8h0M237,43.1h0M167.1,49.5h0M179.8,49.5h0M192.5,49.5h0M205.2,49.5h0M160.7,55.8h0M173.4,55.8h0M186.2,55.8h0M198.9,55.8h0M211.6,55.8h0M154.3,62.2h0M167.1,62.2h0M205.2,62.2h0M198.9,94h0M148,106.7h0M78,138.5h0M103.5,138.5h0M78,151.2h0M71.7,157.6h0M84.4,157.6h0M65.3,164h0M78,164h0M90.8,164h0M58.9,170.3h0M71.7,170.3h0M84.4,170.3h0M97.1,170.3h0M135.3,170.3h0M148,170.3h0M65.3,176.7h0M78,176.7h0M90.8,176.7h0M128.9,176.7h0M141.6,176.7h0M154.3,176.7h0M58.9,183h0M71.7,183h0M84.4,183h0M122.5,183h0M135.3,183h0M78,189.4h0M90.8,189.4h0M58.9,195.8h0M71.7,195.8h0M84.4,195.8h0M65.3,202.1h0M78,202.1h0M58.9,208.5h0M71.7,208.5h0M65.3,214.8h0M103.5,214.8h0M71.7,221.2h0M97.1,221.2h0M160.7,221.2h0M173.4,221.2h0M71.7,233.9h0M160.7,233.9h0" stroke="#000" stroke-width="2" stroke-linecap="round" fill="none"/></g><g clip-path="url(#fr)"><use href="#coast"/></g><g><rect x="0" y="0" width="322.8" height="282.3" fill="none" stroke="#000" stroke-width="1.9"/><path d="M0,282.3v10.3M80.7,282.3v10.3M161.4,282.3v10.3M242.1,282.3v10.3M322.8,282.3v10.3M0,282.3h-10.6M0,201.7h-10.6M0,121h-10.6M0,40.3h-10.6" stroke="#000" stroke-width="1.9" fill="none"/><text x="0" y="315.4" font-size="16.5" text-anchor="middle">80E</text><text x="80.7" y="315.4" font-size="16.5" text-anchor="middle">100E</text><text x="161.4" y="315.4" font-size="16.5" text-anchor="middle">120E</text><text x="242.1" y="315.4" font-size="16.5" text-anchor="middle">140E</text><text x="322.8" y="315.4" font-size="16.5" text-anchor="middle">160E</text><text x="-19.3" y="288.1" font-size="16.5" text-anchor="end">0</text><text x="-19.3" y="207.5" font-size="16.5" text-anchor="end">20N</text><text x="-19.3" y="126.8" font-size="16.5" text-anchor="end">40N</text><text x="-19.3" y="46.1" font-size="16.5" text-anchor="end">60N</text></g><text class="t" x="-5.7" y="-10.2" font-size="23.5" font-weight="bold">(a)</text><text class="t" x="29.1" y="-17.1" font-size="16.6" font-style="italic" stroke="#000" stroke-width="0.45" textLength="162" lengthAdjust="spacingAndGlyphs">June, 0-Month Lead</text></g>
<g transform="translate(455.0,32.7)"><g clip-path="url(#land)"><g mask="url(#m1)"><rect x="0" y="0" width="322.8" height="282.3" fill="#0000cd"/><path d="M50.4,10.1 272.4,10.1 272.4,252.1 50.4,252.1 50.4,10.1ZM154.3,60 153.3,60.7 152.2,62.5 151.9,64.5 152.3,66.5 153.3,67.7 155.3,68.5 158.4,68 159.4,67.3 160.7,65.5 161.1,63.5 160.7,61.5 159.8,60.5 158.4,59.8 156.4,59.6 154.3,60ZM174.5,95.6 174.5,96.8 175.5,97.3 177.8,96.8 178,95.8 177.5,95.4 175.5,95.1 174.5,95.6Z" fill="#4096fc" fill-rule="evenodd"/><path d="M50.4,10.1 272.4,10.1 272.4,252.1 163,252.1 163.6,230.9 162.4,228.3 161.4,227.4 159.4,226.9 156.4,226.9 143.2,226.9 142.2,227.2 141.2,228 140.2,230.1 139.6,232.9 138.8,242 138.7,252.1 92.4,252.1 92.1,242 90.8,240 85.7,236.9 83.9,233.9 83.4,230.9 85.1,221.8 83.7,219.8 81.7,218 80.7,217.7 79.7,218 76.7,220.8 73.5,224.8 71,226.9 67.6,228.7 60.5,230.2 50.4,230.3 50.4,10.1ZM73.6,148.2 72.6,149.2 73,150.2 73.6,150.5 74.7,150.2 74.9,149.2 73.6,148.2ZM150.3,49 149.3,50.2 148.9,51.4 148.6,68.6 149.2,71.6 150.3,73.6 151.3,74.7 152.3,74.8 158.4,71.3 161.4,68.8 163.3,65.5 164,61.5 163.4,59.7 162.3,58.5 156.7,55.5 155.6,54.4 152.8,49.4 151.3,48.7 150.3,49ZM156.4,85.7 153.3,85.7 151.3,86.2 147.5,89.7 147,90.7 147,91.8 149.3,94.5 154.3,97.9 158.5,103.8 164.4,108 167.7,112.9 169.9,114.9 171.5,115.5 172.5,115.4 176.5,114.3 181.6,113.5 199.7,113.4 201.5,112.9 202.5,111.9 202.6,110.9 201.8,109.8 199.7,109.2 190.7,108.1 187.9,106.9 185.8,104.9 184.6,102.4 184.3,99.8 186.2,90.7 185.3,88.7 182.6,86.3 179.6,85.7 156.4,85.7Z" fill="#86d5fd" fill-rule="evenodd"/><path d="M50.4,10.1 272.4,10.1 272.4,252.1 166.4,252.1 166.6,241 168,234.9 170.1,228.9 171.5,227.1 172.5,226.4 181.6,224 182.9,222.8 183,221.8 181.6,220.5 179.6,220.2 155.3,220.2 142.2,220.2 140.4,220.8 139.1,221.8 137.4,225.8 133.8,242 133.6,252.1 95.8,252.1 95.8,243 95.4,241 93.3,236.9 89.8,233.5 88.8,231.9 88.8,230.9 89.8,228.6 94.6,222.8 94.9,221.8 93.8,219.8 86.8,212.7 83.7,208.9 81.7,207.5 80.7,207.6 79.7,208.3 72.6,214.8 70.1,217.8 67.2,222.8 64.6,225 60.5,226.7 50.4,226.9 50.4,10.1ZM70.6,137.1 69.6,138.1 68.3,141.2 68.2,150.2 68.8,151.2 70.6,152.4 72.6,152.9 74.6,152.8 76.1,152.2 77.2,151.2 77.8,149.2 77.4,147.2 74.6,139.5 72.6,137.4 71.6,137 70.6,137.1ZM150.3,43.2 148.3,43.9 146.3,45.4 144.8,47.4 143.9,50.4 143.8,70.6 145.6,80.7 144.2,82.7 141.2,85.2 139.2,85.7 133.2,85.7 131.1,86.2 129.8,87.7 129.1,89.7 129.1,90.7 130.1,92.2 136.2,95.8 138.2,99.2 138.7,101.8 138.8,120 139.2,122 140.2,124.1 141.2,125.3 143.2,126 170.5,126 173.1,125 177.5,120.6 181.6,118.7 200.7,118.4 203.8,117.4 205.1,115.9 206.4,112.9 206.5,110.9 205.5,108.9 203.8,107.2 201.8,106 194.7,104.3 191.7,103.2 190.2,101.8 189.7,100.8 190,98.8 193.7,91.8 195.3,84.7 196.7,80.7 197.4,79.7 201.8,75.8 205.8,74.2 210.8,73.2 220.9,73.1 231,71.7 232.5,70.6 232.8,69.6 232,66.6 231,65.8 230,65.6 222.9,65.5 217.9,64 215.9,64 213.7,64.5 209.3,66.5 204.8,67.6 200.7,68.1 192.7,68.1 190.7,68.5 187.6,70.2 183.6,74.3 181.6,75.4 171.5,75.4 168.6,73.6 167.1,71.6 167.1,69.6 168.2,65.5 168.8,61.5 167.6,58.5 164.8,55.5 159.8,51.4 156.4,45.4 153.3,43.5 150.3,43.2ZM131.1,149.2 129.9,150.2 129.5,151.2 129.7,152.2 132.2,155.3 134.2,156.3 136.6,156.3 138,155.3 139.2,153.6 142.7,152.2 144.1,151.2 144,150.2 141.2,148.9 133.2,148.8 131.1,149.2Z" fill="#aef3fd" fill-rule="evenodd"/><path d="M166.4,10.1 272.4,10.1 272.4,156.3 262.3,156 259.2,154.1 256,149.2 253.2,146.8 251.2,146.3 243.1,146.1 240.1,144.9 238.3,143.2 235,138.3 229.1,134.1 225,128.2 219,124 215.6,119 211.8,115.4 210.8,113.5 209.4,107.9 207.8,105.2 205.5,103.8 199.7,101.8 198,100.8 197.4,99.8 198.9,91.8 200,88.7 201.8,86 204.8,83.5 207.3,80.7 209.8,79 211.8,78.3 221.9,77.8 226,76 233,73.6 234.2,72.6 235.5,70.6 236.6,66.5 237.7,64.5 239.1,63.3 242.3,61.5 242.7,60.5 242.2,59.5 240.1,58.8 232,58 221.9,58 210.8,59.2 201.8,62.8 190.7,63.2 181.6,65.1 179.6,64.3 168,51.4 166.6,49.4 166.4,10.1ZM89.2,83.7 92.8,83.5 101.9,85.6 119,85.7 121.1,86.2 121.6,86.7 122.9,88.7 125.3,94.8 127.4,96.8 131.5,98.8 133.3,100.8 133.6,102.8 133.7,120 134.3,125 135.3,129.1 136.7,132.1 138.3,134.1 140.2,135.5 143.2,136.1 171.5,136.4 174.5,138.3 176.3,141.2 176.6,149.2 177.2,151.2 187.1,161.3 189.6,162.9 192.7,163.8 209.8,163.8 212.8,164.2 214.9,164.9 216.9,166.4 218.3,168.4 219.9,171.8 221.9,173.6 223.9,173.9 240.1,173.9 243.1,174.2 245.1,175 247.1,176.4 248.6,178.5 250.2,181.8 252.2,183.7 263.3,186.5 272.4,186.5 272.4,252.1 169.9,252.1 170,242 171.5,237.9 177.5,231.5 180.4,229.9 184.6,228.3 186.6,226.9 188.1,224.8 188.7,222.8 188.1,220.8 184.6,218 181.6,216.9 176.5,216.8 143.2,216.8 141.2,216.9 138.7,217.8 135.6,219.8 133.9,221.8 132.4,232.9 131.1,235.8 130.1,236.6 128.1,236.9 113,236.9 110,237.6 107.2,240 106.2,242 105.9,252.1 99.3,252.1 99.1,241 98.4,236.9 96.8,232.9 96.7,231.9 97,230.9 99.9,228 101.9,227 110,226.8 112,226.2 114,224.7 115.2,222.8 115.3,221.8 114.8,220.8 111,217.2 108.9,216.8 102.9,216.8 100.9,216.3 97.9,213.7 96.5,211.7 96.6,210.7 97.8,208.9 103.8,204.7 107.9,198.8 112,195.5 114.8,192.6 115.3,191.6 114.7,189.6 113,187.9 111,187.1 99.9,187.5 97.8,188.8 94.6,193.6 91.8,196 89.8,196.5 81.7,196.8 80.7,197.5 77.5,202.7 74.6,206.1 71.6,208.5 67.4,210.7 65.6,212.3 64.4,214.8 63,220.8 61.5,222.7 59.5,223.4 50.4,223.4 50.4,126 60.5,126.3 63.4,128 64.9,130.1 65,132.1 63.5,138.1 63,143.2 63.2,150.2 64.6,152.2 68.6,154.3 72.6,155 75.7,154.9 79.7,154 82.3,152.2 82.9,151.2 83.2,149.2 83.3,90.7 84.9,86.7 86.8,84.9 89.2,83.7ZM131.1,144 129.1,145.1 126.7,147.2 125,149.2 124,151.2 124.2,153.3 126,156.3 128.1,157.9 130.1,158.7 133.2,158.8 138.2,158 145.3,155 151.3,153 162.4,152.5 164.9,151.2 165.5,150.2 164.3,148.2 161.4,146.4 152.3,146.1 146.3,144.5 141.2,143.7 131.1,144Z" fill="#ffea00" fill-rule="evenodd"/><path d="M176.5,10.1 272.4,10.1 272.4,136.1 263.3,136.1 260.3,134.8 258.5,133.1 255.2,128.2 249.3,124 245.1,118.1 239.2,113.9 235,108 229.1,103.8 225,97.9 219.9,94.5 217.6,91.8 217.3,90.7 218.2,88.7 222.6,84.7 225,80.7 227.6,78.6 234,75.9 236.7,73.6 240.1,67.4 245.9,62.5 246.6,60.5 245.9,58.5 244.1,56.7 242.1,55.6 231,53 221.9,53.1 200.7,57.9 189.6,57.7 184.6,56.6 181.6,55.2 177.7,51.4 176.6,49.4 176.5,10.1ZM89.3,89.7 90.8,88.8 91.8,88.8 97.8,91.6 103.9,93.1 105.9,94.1 107.9,96.3 110,101.2 111,102.1 115,103.6 116.8,104.9 118.3,106.9 120,111.2 121.1,112.2 126.1,114.3 127.8,115.9 128.7,118 129.5,122 129.4,131.1 128.6,136.1 127.5,139.1 126.1,141 123.1,143.7 119.5,148.2 114,154.1 111,156 91.8,156.2 89.8,155.4 88.8,153.7 88.3,149.2 88.3,93.8 88.4,91.8 89.3,89.7ZM205.6,90.7 206.8,90.5 208.8,91 209.8,91.8 211,93.8 211.1,95.8 210.4,97.8 209.6,98.8 207.8,99.8 205.8,99.7 204.8,99.3 203.8,98.5 202.9,96.8 202.7,94.8 203.2,92.8 203.9,91.8 205.6,90.7ZM50.4,154.3 50.4,153.7 59.5,153.8 68.6,157.1 77.7,158.2 83.2,159.3 85,160.3 86.2,162.3 87.4,166.4 88.2,171.4 87.4,176.4 86.2,180.5 84.5,183.5 80.7,187.2 79.7,188.7 72.9,201.7 71.6,203.1 69.6,204.2 59.5,206.6 50.4,206.7 50.4,154.3ZM170.3,154.3 172.5,154.5 175.5,156.9 178.4,160.3 181.6,165.7 184.1,167.4 191.7,168.8 210.8,169 211.8,169.3 213.4,170.4 216.9,176.4 220.3,178.5 222.9,178.9 240.1,179 242.1,179.3 244.1,181.1 245.7,184.5 247.1,186.5 249.2,188 255.2,190.6 256.2,191.6 256.2,193 254.2,195.3 251.2,196.5 221.9,196.8 218.9,198.8 215.6,203.7 212.8,206.1 210.8,206.6 202.8,206.8 200.1,207.7 198,209.7 194.7,214.6 192.7,216 191.7,216.1 185.6,214 179.6,213.4 141.2,213.4 136.2,214.2 131.1,216.4 129.1,216.8 122.1,216.7 120,215.6 117.1,212.7 116.1,210.7 116,203.7 116.5,201.7 119,198.6 121.1,197.1 123.1,196.6 130.1,196.5 132.1,196 134.9,193.6 135.7,191.6 133.5,181.5 132.8,179.5 131.1,176.9 128.3,174.4 126.8,172.4 126.6,171.4 127.4,169.4 135.3,162.3 139.4,160.3 151.3,156.4 161.4,156.2 170.3,154.3ZM102.3,166.4 103.9,165.8 105.9,165.7 108.9,166.7 111.9,169.4 113.3,172.4 113.5,176.4 112.5,179.5 110.8,181.5 107.9,183 104.9,183.4 101.9,182.7 99.6,181.5 97.5,178.5 96.9,175.4 97.5,171.4 99.4,168.4 102.3,166.4Z" fill="#ff9500" fill-rule="evenodd"/><path d="M186.6,10.1 257.2,10.1 257.5,60.5 259.2,63.4 262.3,65.3 272.4,65.5 272.4,115.9 263.3,115.9 260.3,114.7 258.5,112.9 255.1,107.9 249.2,103.7 245,97.8 239.1,93.6 235.8,88.7 231.3,84.7 230.2,82.7 230.1,81.7 231,80.3 238.1,77.5 239.6,75.6 241.1,70.9 242,69.6 247.1,67.2 249.2,65 250.3,61.5 250.3,59.5 249.2,56 247.1,53.8 238.1,50.4 234,46.6 229.1,43.4 226.5,40.3 223.9,38.7 221.9,38.1 218.9,39 217.4,40.3 216.9,42.3 216.6,49.4 215.7,50.4 213.7,51.4 210.8,52.1 201.8,52.9 192.7,52.9 189.6,52 187.3,50.4 186.8,49.4 186.6,47.4 186.6,10.1ZM97.1,96.8 99.9,96.1 101.9,96.4 102.9,97.1 104.7,98.8 107.9,103.7 113.8,107.9 118,113.8 123.9,118 125.9,121 126.1,130.1 124.8,134.1 123.1,136.7 119.4,140.1 115.4,145.2 113,147.3 111,148.4 108.9,148.4 105.9,147.9 100.9,146.2 97.8,144 96.1,141.2 95.8,122 93.5,111.9 93.3,102.8 93.5,100.8 94.4,98.8 97.1,96.8ZM50.4,159.3 50.4,158.8 59.5,158.8 72.6,160.6 76.7,162.5 79.7,165.4 81.8,168.4 82.9,171.4 82.3,173.4 71.6,194.4 69.6,196.4 50.4,196.6 50.4,159.3ZM166.6,159.3 171.5,159.3 173,160.3 174.5,162.3 178.7,171.4 178.4,173.4 176.5,176.4 170.5,180 169.2,181.5 167.9,184.5 166.4,186.5 164.4,188 162.4,188.7 159.4,189.1 150.3,188.9 144.3,187.7 141.2,186.1 139.1,182.5 136.8,172.4 136.8,171.4 138.2,169.4 145.5,162.3 149.6,160.3 152.3,159.7 166.6,159.3ZM102.4,169.4 104.9,168.5 106.9,168.8 108.9,170 110.6,172.4 111,174.4 110.6,177.5 109.3,179.5 107.9,180.5 105.9,181.2 103.9,181.1 101.9,180.1 100.4,178.5 99.6,176.4 99.6,173.4 100.4,171.4 102.4,169.4Z" fill="#ff0000" fill-rule="evenodd"/><path d="M206.8,10.1 247.1,10.1 247.1,28.2 246.5,31.3 243.7,34.3 242.1,35.1 240.1,35.3 232,35.1 227,33.6 220.9,32.5 218.9,31.6 217.1,30.2 213.9,26.5 209,23.2 207.4,21.2 206.9,19.2 206.8,10.1ZM99,100.8 99.9,100.1 100.9,100 101.9,100.6 103.7,104.9 104.9,106.7 106.9,108.1 111.3,109.9 112.2,110.9 113.8,114.9 115,116.8 117,118.2 121.1,119.7 122.2,121 122.6,122 122.7,129.1 122.1,131.8 121.1,133.1 116,136.1 114.6,138.1 113.2,141.2 111,143.1 110,143.1 107.8,142.2 106.1,140.1 105.7,121 104.6,119 100.5,114.9 98.8,111.9 98.4,109.9 98.4,103.8 98.5,101.8 99,100.8ZM50.4,166.4 68.6,166.4 70.6,166.8 72.6,168.4 74.5,170.4 75,172.4 72.9,181.5 71.6,184.2 70.6,185.3 69.6,185.6 67.7,184.5 64.3,179.5 61.5,177.1 59.5,176.5 50.4,176.4 50.4,166.4ZM156.4,166.4 170.5,166.6 172.5,168.6 173.4,171.4 172.9,172.4 171.8,173.4 168.5,175 166.4,176.4 165,178.5 163.4,181.8 161.4,183.6 159.4,184 153.3,184 150.3,183.5 148.2,182.5 146.4,180.5 146.3,173.4 146.7,171.4 149.3,168.4 151.3,166.8 153.3,166.4 156.4,166.4ZM102.7,171.4 103.9,170.6 105.9,170.5 107.8,171.4 108.6,172.4 109.3,174.4 109.1,176.4 107.9,178.3 106.9,179 105.9,179.4 103.9,179.2 101.8,177.5 101.1,174.4 101.8,172.4 102.7,171.4Z" fill="#9e0000" fill-rule="evenodd"/></g></g><g clip-path="url(#land)"><path d="M237,30.4h0M249.8,30.4h0M230.7,36.8h0M237,43.1h0M192.5,49.5h0M205.2,49.5h0M237,81.3h0M122.5,132.2h0M103.5,138.5h0M116.2,138.5h0M109.8,144.9h0M65.3,164h0M154.3,164h0M58.9,170.3h0M71.7,170.3h0M148,170.3h0M65.3,176.7h0M78,176.7h0M103.5,176.7h0M141.6,176.7h0M154.3,176.7h0M58.9,183h0M71.7,183h0M148,183h0M65.3,189.4h0" stroke="#000" stroke-width="2" stroke-linecap="round" fill="none"/></g><g clip-path="url(#fr)"><use href="#coast"/></g><g><rect x="0" y="0" width="322.8" height="282.3" fill="none" stroke="#000" stroke-width="1.9"/><path d="M0,282.3v10.3M80.7,282.3v10.3M161.4,282.3v10.3M242.1,282.3v10.3M322.8,282.3v10.3M0,282.3h-10.6M0,201.7h-10.6M0,121h-10.6M0,40.3h-10.6" stroke="#000" stroke-width="1.9" fill="none"/><text x="0" y="315.4" font-size="16.5" text-anchor="middle">80E</text><text x="80.7" y="315.4" font-size="16.5" text-anchor="middle">100E</text><text x="161.4" y="315.4" font-size="16.5" text-anchor="middle">120E</text><text x="242.1" y="315.4" font-size="16.5" text-anchor="middle">140E</text><text x="322.8" y="315.4" font-size="16.5" text-anchor="middle">160E</text><text x="-19.3" y="288.1" font-size="16.5" text-anchor="end">0</text><text x="-19.3" y="207.5" font-size="16.5" text-anchor="end">20N</text><text x="-19.3" y="126.8" font-size="16.5" text-anchor="end">40N</text><text x="-19.3" y="46.1" font-size="16.5" text-anchor="end">60N</text></g><text class="t" x="-11" y="-14.2" font-size="23.5" font-weight="bold">(b)</text><text class="t" x="28" y="-17.1" font-size="16.6" font-style="italic" stroke="#000" stroke-width="0.45" textLength="161.5" lengthAdjust="spacingAndGlyphs">June, 1-Month Lead</text></g>
<g transform="translate(860.3,32.7)"><g clip-path="url(#land)"><g mask="url(#m2)"><rect x="0" y="0" width="322.8" height="282.3" fill="#86d5fd"/><path d="M50.4,10.1 272.4,10.1 272.4,252.1 50.4,252.1 50.4,10.1ZM131.1,157.3 130.1,159.3 129.9,161.3 131.1,163.2 132.1,163.7 141.2,163.6 144.3,162.3 145.3,161.3 145.4,160.3 144.3,158.5 141.2,156.5 133.2,156.3 131.1,157.3Z" fill="#aef3fd" fill-rule="evenodd"/><path d="M50.4,10.1 272.4,10.1 272.4,136.1 263.3,136.1 260.3,134.8 258.5,133.1 255.2,128.2 249.3,124 245.1,118.1 239.2,113.9 235,108 229.1,103.8 225.7,98.8 222.9,96.4 219.9,95.8 192.7,95.7 190.7,95.2 188.8,93.8 187.6,92.3 187.1,90.7 187.9,88.7 189.6,87 194.7,83.5 198,78.6 199.7,76.9 202.8,75.7 211.8,75.4 214.9,73.4 216.2,71.6 216.4,70.6 216.2,69.6 214.9,67.7 211.8,65.8 193.7,65.5 190.7,64.9 187.9,62.5 184.6,57.6 181.6,55.7 172.5,55.5 169.9,56.5 167.7,58.5 164.3,63.5 158.4,67.7 154.2,73.6 148.3,77.8 145,82.7 143.2,84.4 140.2,85.6 131.1,85.9 128.1,87.9 126.8,89.7 126.6,90.7 127.1,92.3 128.3,93.8 134.2,97.9 138.3,103.8 143.2,107.1 145.3,109.3 146.2,111.9 146.5,121 147.5,123 149.3,124.8 152.3,126 170.5,126.1 173.1,127 175.3,129.1 176.5,132.1 176.5,155.3 177.5,156.3 180.6,156.2 182.6,155.6 184.6,154.1 186,152.2 186.6,149.2 186.7,132.1 187.6,129.4 189.6,127.3 191.7,126.3 193.7,126 216.9,126 221.9,126.3 223.9,127.3 225.7,129.1 229,134 234.9,138.1 238.3,143.2 241.1,145.6 243.1,146.1 251.2,146.3 253.2,146.8 256,149.2 259.2,154.1 262.3,156 272.4,156.3 272.4,236.9 181.6,236.7 178.5,234.8 174.4,228.9 168.5,224.7 165.2,219.8 162.4,217.4 159.4,216.8 142.2,216.7 139.2,215.5 137.5,213.7 136.4,211.7 136.1,202.7 135.5,200.6 134,198.6 129.1,195.3 124.2,190.6 122.1,189.6 120,189.6 116.5,191.6 113,195.3 111,196.1 110,195.9 107.9,194.4 102.9,188.6 97.8,184.4 93.8,179.5 90.8,177.2 89.8,177.3 87.8,178.6 84.5,183.5 82.3,185.5 79.7,186.4 75.7,186.5 75.8,190.6 76.8,192.6 79.7,195.5 83.7,198.8 85.5,201.6 85.7,219.8 85.5,221.8 84.5,223.8 82.3,225.8 79.7,226.8 71.6,226.9 65.6,228.5 60.5,229.3 50.4,229.4 50.4,186.5 74.6,186.5 75.7,185.5 75.6,182.5 75,180.5 72.6,177.7 70.6,176.7 50.4,176.4 50.4,126 59.5,126.1 61.5,126.7 64.3,129.1 67.7,134.1 73.6,138.3 75,140.1 75.6,142.2 75.9,151.2 76.9,153.3 79.1,155.3 80.7,155.8 81.7,155.6 84.5,153.3 85.5,151.2 85.7,146.2 85.5,80.7 83.7,77.8 77.8,73.6 74.4,68.6 71.6,66.2 68.6,65.5 50.4,65.5 50.4,10.1ZM130.1,146.8 128.1,148.4 126.7,150.2 126.1,152.2 126.1,156.3 126.5,162.3 128.1,165.6 130.1,167.9 132.1,168.8 141.2,168.8 146.3,168 152.3,166.4 160.4,166.4 163.4,167.6 165.8,170.4 166.4,172.4 166.4,176.4 166.4,180.5 165.8,182.5 163.4,185.3 158.4,188.7 157,190.6 156.4,192.6 156.6,201.6 158.4,204.5 161.4,206.5 210.8,206.6 212.8,206.1 214.7,204.7 218.9,198.8 221.9,196.8 251.2,196.5 254.2,195.3 256.5,192.6 256.5,190.6 255.2,188.7 249.3,184.5 245.1,178.6 242.1,176.7 221.9,176.2 218.9,174.3 214.7,168.4 211.8,166.6 183.6,166.4 180.6,165.7 178.7,164.3 177.2,162.3 176.6,160.3 176.5,156.3 172.5,156.2 169.9,155.3 167.7,153.3 164.4,148.4 161.4,146.4 133.2,146.2 130.1,146.8ZM99.3,217.8 100.9,217.3 101.9,217.5 103.9,218.9 105.2,220.8 105.4,221.8 104.6,223.8 101.9,226.1 100.9,226.4 98.9,225.6 96.5,222.8 96.3,221.8 96.8,220.3 99.3,217.8ZM105.9,236.9 129.1,236.9 132.1,237.6 134.9,240 135.9,242 136.2,252.1 95.8,252.1 95.9,243 96.8,240.4 98.9,238.2 100.9,237.2 105.9,236.9Z" fill="#ffea00" fill-rule="evenodd"/><path d="M206.8,10.1 216.9,10.1 216.9,19.2 217.5,21.2 219.9,23.9 224.8,27.2 228.2,32.3 231,34.7 234,35.3 252.2,35.5 255.2,37.5 258.5,42.3 261.3,44.7 263.3,45.3 272.4,45.4 272.4,115.9 263.3,115.9 260.3,114.7 258.5,112.9 255.2,108 249.3,103.8 245.1,97.9 239.2,93.8 235,87.9 230,84.4 227.7,81.7 227.7,79.7 229,77.8 234.9,73.6 239.1,67.7 244.1,64.3 245.9,62.5 246.6,60.5 246.1,58.9 245,57.5 243.1,56.1 241.1,55.5 212.8,55.4 210.2,54.4 207.8,52 207,50.4 206.8,48.4 206.8,10.1ZM99.3,96.8 100.9,96.3 101.9,96.5 103.7,97.8 108.1,103.8 113.8,107.9 118,113.8 123.9,118 128.1,123.9 134.2,128.2 135.5,130.1 135.7,131.1 135.2,132.6 134,134.1 132.1,135.5 130.1,136.1 122.1,136.1 120,135.5 117.3,133.1 113.8,128 107.9,123.9 103.8,118 97.8,113.8 96.5,111.9 95.9,109.9 95.9,101.8 97.1,98.8 99.3,96.8ZM119.8,157.3 121.1,157.6 122.1,159.3 124.1,168 125.1,170.2 127.1,173 129.3,174.4 131.1,175.1 135.2,175.9 140.4,176.4 142.9,177.5 145,179.5 145.8,181.5 145.3,183 144.1,184.5 142.2,185.9 139.2,186.5 132.1,186.5 126.1,184.8 121.1,184.1 111,185.9 108,183.5 103.9,178.8 99.3,176.4 98.5,174.4 96.5,171.4 96.6,170.4 98,168.4 100.9,166.6 110,166.3 112,165.7 114.7,163.3 118,158.4 119.8,157.3ZM50.4,196.6 68.6,196.6 70.6,197.1 71.6,197.7 74.5,200.6 75.5,202.7 75.6,210.7 74.4,213.7 72.6,215.5 68.6,218 65.1,221.8 62.5,223.4 59.5,224.3 50.4,224.3 50.4,196.6Z" fill="#ff9500" fill-rule="evenodd"/><path d="M107.8,175.4 112,174.8 119,174.8 123.1,175.4 123.9,176.4 120,177.3 112,177.3 107.3,176.4 107.8,175.4Z" fill="#ff0000" fill-rule="evenodd"/></g></g><g clip-path="url(#fr)"><use href="#coast"/></g><g><rect x="0" y="0" width="322.8" height="282.3" fill="none" stroke="#000" stroke-width="1.9"/><path d="M0,282.3v10.3M80.7,282.3v10.3M161.4,282.3v10.3M242.1,282.3v10.3M322.8,282.3v10.3M0,282.3h-10.6M0,201.7h-10.6M0,121h-10.6M0,40.3h-10.6" stroke="#000" stroke-width="1.9" fill="none"/><text x="0" y="315.4" font-size="16.5" text-anchor="middle">80E</text><text x="80.7" y="315.4" font-size="16.5" text-anchor="middle">100E</text><text x="161.4" y="315.4" font-size="16.5" text-anchor="middle">120E</text><text x="242.1" y="315.4" font-size="16.5" text-anchor="middle">140E</text><text x="322.8" y="315.4" font-size="16.5" text-anchor="middle">160E</text><text x="-19.3" y="288.1" font-size="16.5" text-anchor="end">0</text><text x="-19.3" y="207.5" font-size="16.5" text-anchor="end">20N</text><text x="-19.3" y="126.8" font-size="16.5" text-anchor="end">40N</text><text x="-19.3" y="46.1" font-size="16.5" text-anchor="end">60N</text></g><text class="t" x="-7.8" y="-15.1" font-size="23.5" font-weight="bold">(c)</text><text class="t" x="27.7" y="-17.4" font-size="16.6" font-style="italic" stroke="#000" stroke-width="0.45" textLength="285.6" lengthAdjust="spacingAndGlyphs">June, Average for 2-12 Month Lead</text></g>
<g transform="translate(49.7,390.5)"><g clip-path="url(#land)"><g mask="url(#m3)"><rect x="0" y="0" width="322.8" height="282.3" fill="#0000cd"/><path d="M50.4,10.1 272.4,10.1 272.4,252.1 50.4,252.1 50.4,10.1ZM101.9,195.3 101.2,196.6 102,197.6 102.9,198 105.9,198.1 107.3,197.6 108.1,196.6 107.6,195.6 105.9,194.9 103.9,194.7 101.9,195.3Z" fill="#4096fc" fill-rule="evenodd"/><path d="M50.4,10.1 272.4,10.1 272.4,252.1 50.4,252.1 50.4,10.1ZM101.9,193.4 99.9,194.2 98.8,195.6 99,197.6 100.9,199.2 102.9,199.7 105.9,199.8 108.9,198.9 110.2,197.6 110.4,196.6 110.1,195.6 108.9,194.6 105.9,193.5 101.9,193.4ZM187.6,54.3 184.8,55.5 185.6,56.5 189.6,57.1 192.7,56.6 193.4,55.5 191.7,54.4 187.6,54.3Z" fill="#86d5fd" fill-rule="evenodd"/><path d="M50.4,10.1 272.4,10.1 272.4,252.1 50.4,252.1 50.4,10.1ZM90.8,208 89.4,209.7 88.7,211.7 89.8,214.6 90.8,215.1 91.8,214.3 92.7,212.7 93,210.7 92.5,208.7 91.8,207.9 90.8,208ZM97.8,191.4 95.9,192.6 94.9,195.6 95.1,198.6 96,201.7 96.8,202.8 99.9,204 107.9,204.2 111,203.8 112.4,202.7 112.9,201.7 112.9,196.6 112,194.7 111,193.7 107.9,192.1 103.9,191.1 100.9,190.8 97.8,191.4ZM187.6,52.3 183.6,52.8 181.6,53.6 180.5,54.4 180,55.5 180.2,56.5 182.6,58.2 185.6,58.8 189.6,59.1 193.7,58.3 196.8,56.5 197,55.5 196.4,54.4 194.7,53.4 191.7,52.5 187.6,52.3Z" fill="#aef3fd" fill-rule="evenodd"/><path d="M50.4,10.1 176.5,10.1 176.5,49.4 176.3,51.4 175.2,54.4 175.1,56.5 176.3,59.5 177.6,61.5 180.6,64.5 184.5,67.6 186,69.6 186.6,71.6 186.7,79.7 187.9,82.7 189.6,84.4 194.5,87.7 198.7,92.8 201.7,95.1 203.8,94.5 206.2,91.8 206.7,89.7 206.8,82.7 206.3,80.7 205.7,79.7 202.8,76.7 198.7,73.5 197.3,71.6 196.8,69.6 196.9,61.5 197.3,60.5 200.2,57.5 200.9,55.5 199.8,53.4 197.7,51.4 196.8,49.4 196.7,10.1 272.4,10.1 272.4,252.1 93.3,252.1 93.4,222.8 93.9,220.8 97.3,213.7 98.9,211.1 100.9,209.5 111,209.1 114,208.1 116.8,205.7 118.1,202.7 117.9,200.6 115.8,195.6 113.5,191.6 112,189.9 108.9,188.9 100.9,188.6 89.8,189.2 87.8,189.8 86.7,190.6 86.2,191.6 87.8,198.6 88,201.7 83.8,210.7 83.4,212.7 84.1,216.8 85.7,222.8 85.7,252.1 50.4,252.1 50.4,194.1 60.5,193.8 63.3,192.6 67.2,189.6 70.6,188.4 80.7,186.4 81.7,185.8 82.5,184.5 83,181.5 82,178.5 80.7,177.4 75.7,179 69.6,180.3 63.6,183.1 55.5,184.2 50.4,185.4 50.4,10.1ZM125.1,164.3 123.9,165.4 124.4,166.4 125.1,166.5 126.1,165.4 125.1,164.3ZM131.1,89.5 129.7,90.7 130.1,92.1 136.2,95.8 139.7,101.8 141.2,103.1 144.3,104.4 146.3,105.9 147.7,107.9 149.3,111.3 150.3,112.3 151.3,112.8 153.3,112.2 155.4,110.9 160.4,106.1 161.4,104.7 162.6,101.8 163.9,95.8 165.3,91.8 165.1,90.7 163.5,89.7 160.4,89.1 134.2,89.1 131.1,89.5Z" fill="#ffea00" fill-rule="evenodd"/><path d="M50.4,10.1 166.4,10.1 166.6,59.5 167.6,61.5 176.1,70.6 176.5,72.6 176.5,78.6 175.9,81.7 173.5,84.4 170.5,85.7 131.1,85.9 127.1,87.5 124.6,89.7 124,91.8 124.7,93.8 127.1,96.6 131.1,98.6 132.7,99.8 136.2,105.9 138.2,107.3 141.2,108.6 142.8,109.9 146.3,115.9 148.3,117.4 150.3,118 152.3,117.5 160.4,112.9 162.4,111.4 163.4,109.7 167.5,98.3 169,95.8 171.1,93.8 173.5,93 181.6,92.5 188.6,93.9 191.7,95.8 201.8,105.4 203.8,105.8 210.8,105.9 213.9,107.1 215.6,108.9 218.9,113.8 224.8,118 229,123.9 234.9,128 237.5,131.1 246.8,140.1 250.2,142.1 255.2,143.5 258.1,145.2 259.5,147.2 261,151.2 262,152.2 264.3,152.8 272.4,152.9 272.4,252.1 136.2,252.1 136.1,243 135.2,240.4 133.2,238.2 131.1,237.2 126.1,236.9 113,236.9 110,237.6 107.2,240 106.2,242 105.9,252.1 98.4,252.1 98.4,222.8 99.9,219 101.9,217 190.7,216.7 192.7,216.1 194.5,214.8 198,209.7 200.7,207.3 202.8,206.8 210.8,206.6 213.5,205.7 215.6,203.7 218.9,198.8 221.9,196.8 251.2,196.5 254.2,195.3 255.9,193.6 256.3,192.6 255.7,191.6 253.9,190.6 249.2,189.2 246.3,187.5 244.9,185.5 243.4,181.5 242.1,180.3 240.1,179.9 220.9,179.6 217.9,178.7 216,177.5 214.6,175.4 213.1,171.4 211.8,170.2 210.8,169.9 191.7,169.7 186.6,168.9 182.6,167.5 181.6,167.5 180.6,169 179.2,174.4 177.5,177.3 175.5,178.7 170.5,180.6 168.8,182.5 167.3,185.5 164.4,188 160.4,189 141.2,189.2 137.6,190.6 134,194.6 131.1,196.4 122.1,196.4 120,194.3 119.1,192.6 118.8,190.6 119.8,187.5 123.9,184.5 125.4,182.5 125.5,180.5 123.9,173.4 124.1,170.8 128,167.4 130.3,164.3 132.1,163.7 142.2,162.6 145.1,161.3 146,160.3 146.3,158.3 146,152.2 145.3,151.2 142.2,150 140.7,150.2 139.2,151.2 137,155.3 134.2,157.7 130.1,158.9 122.1,159.7 120.3,160.3 119.1,161.3 118.5,162.3 116.2,171.4 115.7,181.5 115,182.6 113.5,183.5 106.9,185.6 100.9,186.4 94.8,185.6 90.8,184 89.2,182.5 88.8,181.6 88.9,179.5 90.6,176.4 94.7,171.4 94.5,170.4 91.8,167.5 90.8,166.8 88.8,166.4 82.7,166.4 80.7,166.9 79.7,167.8 77.2,172.4 75.7,173.9 72.6,175.7 65.6,178.5 60.5,180 50.4,180.2 50.4,10.1ZM206.8,10.1 272.4,10.1 272.4,118.5 262.3,118.4 258.2,116.8 256.4,114.9 254.4,110.9 253.2,109.4 247.1,105.9 245.7,103.8 244.4,100.8 243.1,99.3 237.1,95.8 235.6,93.8 234.3,90.7 233,89.2 231,88.2 223.9,86.5 220.2,84.7 206.8,70.2 205.4,66.5 204.4,61.5 204.9,55.5 204.3,50.4 204.3,39.3 204.4,29.2 206.7,19.2 206.8,10.1ZM69.9,194.6 71.6,194.3 73.6,194.5 79.7,196.3 81.7,198.4 82.8,201.7 78.4,211.7 78,222.8 75.7,232.9 75.7,252.1 50.4,252.1 50.4,199.1 60.5,198.9 69.9,194.6Z" fill="#ff9500" fill-rule="evenodd"/><path d="M50.4,10.1 136.2,10.1 136.2,28.2 136.8,31.3 139.2,34 144.1,37.3 148.3,43.2 153.3,46.6 155.7,49.4 156.3,51.4 156.6,60.5 158.4,63.4 163.4,67.6 166,70.6 166.4,72.6 166.2,79.7 164.4,81.2 161.4,82.2 131.1,82.3 125.1,83.5 120,85.6 101.9,85.8 100.3,86.7 99,88.7 98.9,90.7 99.4,91.8 100.9,93 103.9,94.3 105.9,95.8 109.4,101.8 111,103.1 114,104.4 116,105.9 119.5,111.9 121.1,113.2 124.1,114.5 126.1,115.9 127.5,118 128.9,121 130.1,122.5 131.1,123.1 133.2,123.5 149.3,123.5 151.7,123 156.4,119 163.1,114.9 165.2,112.9 166.4,110.7 170,100.8 171.5,98.7 174.5,97.3 180.6,96 182.6,96.2 184.6,97 188.2,99.8 191.7,105.6 198.9,113.9 203.8,117.2 208.7,122 214.9,124.6 216.9,126 218.3,128 219.7,131.1 220.9,132.6 222.9,133.5 231,133.7 233,134.3 236.4,137.1 240.5,142.2 242.1,143.5 245.1,144.7 252.2,146.4 254.2,147.5 256,149.2 258.5,153.3 261.3,155.6 263.3,156.2 272.4,156.3 272.4,189.1 262.3,188.9 252.2,186.4 249.2,184.4 245,178.5 242.1,176.7 221.9,176.2 219,174.4 214.9,168.5 211.8,166.6 192.7,166.3 189.2,165.4 186,163.3 182.6,159.7 177.5,157.1 175.5,155 174.1,151.2 173.9,142.2 173,140.1 170.5,138.6 162.4,136.7 161.4,136.8 159.4,138.1 154.3,144 152.3,145.6 150.3,146.1 142.2,146.2 140.2,146.6 136.2,148.7 132.1,152.8 130.1,154.1 121.1,156.4 118,157.5 114.4,160.3 112,164.5 110,166.2 102.9,166.3 100.9,165.9 95.6,161.3 92.8,159.7 90.8,159 72.6,158.8 69.6,159.3 67.6,160.3 66.9,161.3 67.2,162.3 70.8,166.4 72.1,168.4 72.6,170.4 72.4,171.4 71.5,172.4 66.6,175 60.5,177.2 50.4,177.4 50.4,10.1ZM237.1,10.1 272.4,10.1 272.4,113.4 263.3,113.3 261.3,112.4 260,110.9 258.7,107.9 257.2,105.9 255.2,104.4 252.2,103.1 250.7,101.8 247.1,95.8 245.1,94.3 242.1,93 240.6,91.8 237.1,85.7 235,84.3 230,82.3 227.5,80.7 224.8,77.6 220.9,74.5 212.8,66.5 210.8,63.8 209.8,61.5 209.4,58.5 209.3,32.3 209.5,30.2 210.3,28.2 211.8,26.2 212.8,26 214.9,27.4 217.9,30.9 220.3,32.3 231,34.7 233,34.6 234,34 236,31.9 237,29.2 237.1,10.1ZM149.9,164.3 153.3,163.8 171.5,164 173.5,164.9 174.8,166.4 176.1,169.4 176.2,171.4 175.2,173.4 173.5,175.2 166.4,179 162.4,183 161.4,183.6 159.4,184 142.2,184 139.2,183.4 136.2,181.5 133.2,178.5 131.1,176.2 129.5,173.4 129.2,171.4 129.7,170.4 132.1,168.6 149.9,164.3ZM100.6,174.4 101.9,174.3 103.9,175 106.8,177.5 107.9,180.5 107.6,181.5 106.5,182.5 103.9,183.7 100.9,184.3 96.8,183.3 95.3,182.5 94.3,181.5 94.2,180.5 95.8,178.1 98.7,175.4 100.6,174.4ZM70.2,199.6 71.6,199.7 73.7,200.6 74.7,201.7 75,202.7 73.3,210.7 72.9,221.8 71.6,224.9 70.6,225.9 69.6,226 67.6,224.7 65.8,221.8 65.6,204.7 65.8,202.7 66.5,201.7 70.2,199.6Z" fill="#ff0000" fill-rule="evenodd"/><path d="M220.5,38.3 222.9,38.3 226.5,40.3 230,44.1 235,47.5 239.2,53.4 245.1,57.6 246.4,59.5 246.6,60.5 246.1,62 245,63.5 243.1,64.9 241.1,65.5 223.9,65.5 221.9,65.1 218.9,62.5 217.3,60.5 217,59.5 216.9,42.3 217.4,40.3 217.9,39.7 220.5,38.3ZM89.3,86.7 90.8,86.5 91.8,87.2 94.4,93.8 95.8,95.8 101.9,99.3 103.1,100.8 104.5,103.8 105.9,105.9 112,109.4 113.2,110.9 114.6,113.9 116,115.9 122.1,119.5 123.3,121 125.3,125 127.1,126.9 129.5,128 132.1,128.5 152.3,128.7 154.3,129.3 155.3,130.1 155.6,131.1 155.1,132.1 145.3,141.3 142.2,142.5 134.2,144.3 129.4,147.2 125.1,151.2 122.1,152.5 115,154 110,156.2 101.9,156.2 95.8,154.6 90.8,153.8 73.6,153.7 67.6,154.2 59.5,156.2 50.4,156.3 50.4,126 59.5,126.1 62.1,127 64.3,129.1 67.6,134 73.5,138.1 76.9,143.2 79.7,145.5 80.7,145.7 82.7,144.9 85.1,142.2 85.7,139.1 85.8,91.8 87,88.7 89.3,86.7ZM179.8,99.8 181.6,99.6 182.6,100 184.1,101.8 186.6,111.9 186.9,121 187.9,123 190,125 192.7,126 201.8,126.2 211.8,128.9 213.9,130.7 216,135.1 218.9,137.6 221.9,138.5 230,138.7 232,139.1 234.2,141.2 236.2,145.2 239.1,147.6 242.1,148.7 250.2,149.5 252.2,150 253.4,151.2 255.5,156.3 257.8,158.3 262.3,159.6 272.4,159.7 272.4,184 262.3,183.9 253.2,183.1 252.2,182.7 250.9,181.5 249.4,177.5 248,175.4 246.1,174.2 243.1,173.3 223.9,173 221.9,172.6 220.7,171.4 219.1,167.4 217.9,165.5 216.3,164.3 213.9,163.4 210.8,163 192.7,162.9 190.9,162.3 189.7,161.3 186.6,156.3 184.6,154.8 181.2,153.3 179.4,151.2 179.1,149.2 178.9,141.2 177.4,137.1 175.3,135.1 169.5,132.7 166.9,131.1 164.3,128 160.4,125.3 159.3,123 159.7,121 160.8,120 165.4,118.2 167.5,116.8 168.7,114.9 170.5,109.3 172.5,105.6 176.2,101.8 179.8,99.8ZM50.4,164.3 58.5,164.3 60.5,164.6 62.5,165.9 65.2,168.4 66.6,170.4 66.4,171.4 63.6,173.4 60.5,174.5 50.4,174.7 50.4,164.3ZM146.6,169.4 152.3,168.9 169.5,168.9 171.5,169.5 172.2,170.4 172.3,171.4 171.7,172.4 170.5,173 165.4,174.2 161.4,176 159.4,176.4 142.2,176.3 140.2,175.3 137.6,172.4 137.8,171.4 139.5,170.4 146.6,169.4ZM100,180.5 100.9,180 101.9,180.5 100.9,181.6 100,180.5Z" fill="#9e0000" fill-rule="evenodd"/></g></g><g clip-path="url(#land)"><path d="M243.4,24h0M249.8,30.4h0M262.5,30.4h0M230.7,36.8h0M237,43.1h0M217.9,49.5h0M148,55.8h0M211.6,55.8h0M224.3,55.8h0M141.6,62.2h0M154.3,62.2h0M217.9,62.2h0M160.7,68.6h0M224.3,68.6h0M237,81.3h0M179.8,100.4h0M173.4,106.7h0M186.2,106.7h0M167.1,113.1h0M179.8,113.1h0M192.5,113.1h0M160.7,119.4h0M173.4,119.4h0M186.2,119.4h0M128.9,125.8h0M141.6,125.8h0M154.3,125.8h0M167.1,125.8h0M179.8,125.8h0M192.5,125.8h0M122.5,132.2h0M135.3,132.2h0M148,132.2h0M160.7,132.2h0M173.4,132.2h0M186.2,132.2h0M78,138.5h0M90.8,138.5h0M103.5,138.5h0M116.2,138.5h0M128.9,138.5h0M141.6,138.5h0M154.3,138.5h0M84.4,144.9h0M97.1,144.9h0M109.8,144.9h0M122.5,144.9h0M135.3,144.9h0M148,144.9h0M65.3,151.2h0M78,151.2h0M90.8,151.2h0M103.5,151.2h0M116.2,151.2h0M128.9,151.2h0M58.9,157.6h0M71.7,157.6h0M84.4,157.6h0M97.1,157.6h0M109.8,157.6h0M65.3,164h0M103.5,164h0M58.9,170.3h0M135.3,170.3h0M148,170.3h0M103.5,176.7h0M141.6,176.7h0M154.3,176.7h0M71.7,208.5h0M71.7,221.2h0" stroke="#000" stroke-width="2" stroke-linecap="round" fill="none"/></g><g clip-path="url(#fr)"><use href="#coast"/></g><g><rect x="0" y="0" width="322.8" height="282.3" fill="none" stroke="#000" stroke-width="1.9"/><path d="M0,282.3v10.3M80.7,282.3v10.3M161.4,282.3v10.3M242.1,282.3v10.3M322.8,282.3v10.3M0,282.3h-10.6M0,201.7h-10.6M0,121h-10.6M0,40.3h-10.6" stroke="#000" stroke-width="1.9" fill="none"/><text x="0" y="315.4" font-size="16.5" text-anchor="middle">80E</text><text x="80.7" y="315.4" font-size="16.5" text-anchor="middle">100E</text><text x="161.4" y="315.4" font-size="16.5" text-anchor="middle">120E</text><text x="242.1" y="315.4" font-size="16.5" text-anchor="middle">140E</text><text x="322.8" y="315.4" font-size="16.5" text-anchor="middle">160E</text><text x="-19.3" y="288.1" font-size="16.5" text-anchor="end">0</text><text x="-19.3" y="207.5" font-size="16.5" text-anchor="end">20N</text><text x="-19.3" y="126.8" font-size="16.5" text-anchor="end">40N</text><text x="-19.3" y="46.1" font-size="16.5" text-anchor="end">60N</text></g><text class="t" x="-8.2" y="-14.5" font-size="23.5" font-weight="bold">(d)</text><text class="t" x="29.1" y="-17" font-size="16.6" font-style="italic" stroke="#000" stroke-width="0.45" textLength="158" lengthAdjust="spacingAndGlyphs">July, 0-Month Lead</text></g>
<g transform="translate(455.0,390.5)"><g clip-path="url(#land)"><g mask="url(#m4)"><rect x="0" y="0" width="322.8" height="282.3" fill="#0000cd"/><path d="M50.4,10.1 272.4,10.1 272.4,252.1 50.4,252.1 50.4,10.1ZM102.9,174.3 100.8,175.4 99.7,177.5 99.8,179.5 100.9,181.3 102.9,182 105.9,181.7 107.9,180.9 109.5,179.5 110.1,177.5 109.9,176.4 108.9,175.1 107.9,174.4 105.9,173.9 102.9,174.3ZM129.1,197.5 122.1,199.1 120,200.9 119.4,203.7 119.5,210.7 120,212.6 121.1,213.7 123.1,214.2 130.1,214.2 132.1,213.2 133.3,211.7 133.6,209.7 133.6,203.7 133.2,200.6 132.1,198.6 131.1,197.5 129.1,197.5Z" fill="#4096fc" fill-rule="evenodd"/><path d="M50.4,10.1 272.4,10.1 272.4,252.1 50.4,252.1 50.4,163 60.5,163.3 65.6,162.5 68.6,161.3 69.8,160.3 70.6,159 70.9,157.3 70.3,155.3 69.3,154.3 67.6,153.4 64.6,152.9 59.5,153.1 50.4,155.7 50.4,10.1ZM80.7,169.3 79.7,169.8 78.5,171.4 78.2,174.4 78.4,181.5 79.7,184.4 80.7,184.9 82,183.5 84.3,178.5 85.7,176.4 87.8,175 90.8,174 93.8,173.8 94.8,174 97.4,181.5 98.9,183.2 100.9,184.5 104.9,184.4 108.9,183.2 111.9,181.5 113.3,179.5 113.5,177.5 112.4,174.4 111,172.8 108.9,171.8 104.9,171.5 96.8,172.5 90.9,170.4 80.7,169.3ZM130.1,187.3 128.3,188.5 125.6,191.6 119.4,195.6 117.8,197.6 116.4,200.6 116,202.7 116,208.7 116.4,213.7 118,217.2 119,218.2 121.1,219.1 130.1,219.3 133.2,218.7 136.2,216.8 137.6,214.8 138.4,212.7 138.6,201.7 137.2,194.1 136,191.6 133.2,188.6 131.1,187.2 130.1,187.3Z" fill="#86d5fd" fill-rule="evenodd"/><path d="M50.4,10.1 272.4,10.1 272.4,252.1 50.4,252.1 50.4,166.4 68.6,166.5 70.6,166.7 71.6,167.2 72.4,168.4 73,170.4 73.2,181.5 74.5,188.5 75.7,190.8 76.7,191.6 78.7,192.3 80.7,192.4 82.7,191.4 84.2,189.6 88.4,181.5 89.8,180.1 90.8,179.8 92.2,180.5 97.4,186.5 100.9,188.8 104.9,188.5 112,187 113.3,185.5 115,184.6 117,184.8 117.7,185.5 118.1,187.5 117.7,188.5 115.9,190.6 114.1,194.6 113.2,197.6 112.6,201.6 112.5,211.7 111.7,214.8 111,216 110,216.6 102.9,216.8 101.9,217.2 100.9,218.3 99.6,221.8 99.8,223.8 100.9,226.1 104.7,229.9 107.9,234.8 110,236.3 113,236.9 131.1,236.7 134.2,234.8 137.4,229.9 140.2,227.5 143.2,226.9 161.4,226.6 164.4,224.7 165.7,222.8 165.9,221.8 165.2,219.8 162.4,217.4 160.4,216.8 151.3,216.5 149.3,215.5 147.3,213.4 146.3,210.7 146.2,192.6 145.1,190.6 136.6,181.5 136.2,179.5 136.1,172.4 135.1,170.4 133.2,168.4 132.1,167.7 131.1,167.5 123.1,175.1 121.1,175.8 119,174.7 115,169.3 112,166.9 111,166.8 102.9,169 99.9,169.2 87.8,167 78.5,163.3 76.9,162.3 76.4,161.3 75.3,156.3 73.5,151.2 73,142.2 72.1,140.1 70.6,138.9 67.6,137.6 65.6,136.1 64.1,134.1 62.5,130.7 60.5,128.9 58.5,128.6 50.4,128.6 50.4,10.1ZM138.2,145.1 137.8,145.2 137.2,146.2 140.2,147.1 144.3,147.1 146.5,146.2 145.3,145.2 144.3,145 141.2,144.8 138.2,145.1ZM150.3,89.5 147.8,90.7 147.2,91.8 147.6,92.8 149.3,94.5 154.2,97.8 158.4,103.7 161.4,105.6 181.6,106.1 184.6,108 188.8,113.9 190.7,115.3 192.7,115.9 201.8,115.7 204.6,113.9 206.6,110.9 206.6,100.8 204.8,98 202.8,96.5 200.7,96.3 195.7,97.7 191.7,98.2 187.6,97.7 181.6,96.2 175.5,97.7 171.5,98.1 168.5,97.2 166.4,95.8 163.4,90.7 161.4,89.4 153.3,89.1 150.3,89.5Z" fill="#aef3fd" fill-rule="evenodd"/><path d="M50.4,10.1 138.7,10.1 138.7,28.2 139.1,30.2 140.9,32.3 144.3,33.8 146.3,35.3 147.7,37.3 148.5,39.3 148.8,42.3 148.9,69.6 149.9,71.6 151.3,72.3 152.3,72 153.5,70.6 155.2,63.5 156.9,59.5 158.5,57.5 164.4,52.4 166,50.4 166.3,49.4 166.4,10.1 209.3,10.1 209.5,20.2 210.2,22.2 211.8,24.7 215.6,28.2 219,33.3 225,37.5 229.1,43.4 234,46.6 238.9,51.4 246.1,54.6 248.2,56.7 249.3,59.5 249,62.5 247.1,65.5 241.1,69 239.8,70.6 237.9,74.6 236,76.5 229,79.7 228,80.7 227.8,81.7 228.3,82.7 230,84.4 235,87.9 239.2,93.8 245.1,97.9 249.3,103.8 255.2,108 258.5,112.9 260.3,114.7 263.3,115.9 272.4,115.9 272.4,136.1 263.3,136.1 260.3,134.8 258.5,133.1 255.1,128 249.2,123.9 245,118 239.1,113.8 234.9,107.9 229,103.7 224.8,97.8 218.9,93.6 215.6,88.7 213.9,87 209.8,84.4 206.1,80.7 202.8,78.7 191.7,76.1 189.6,76.9 187.3,79.7 186.7,81.7 186.6,85.7 191.7,86 194.7,87.9 195.9,89.7 195.7,90.7 194.7,91.8 192.7,92.7 190.7,92.7 187.4,90.7 186.7,88.7 186.6,85.7 183.6,85.7 181.6,86.2 176.3,90.7 172.5,92.7 170.5,92.2 165.4,87.5 162.4,86.1 160.4,85.7 150.3,85.9 141.2,88.1 132.1,88.4 131.1,88.8 130.4,89.7 130.3,90.7 131.1,91.9 135.2,93.5 137.2,94.9 138.4,96.8 140.4,101.8 141.2,102.8 146.3,105.9 147.7,107.9 149.3,111.3 151.1,112.9 153.3,113.4 161.4,113.5 166.4,114.3 171.5,115.9 174.5,118.1 175.9,120 176.5,122 176.5,130.1 175.5,132.7 173.5,134.9 169.5,137 161.4,139.3 157.4,144 154.3,145.1 151.3,145 147.3,144 138.2,142.3 132.1,139.3 130.1,139.2 126.6,141.2 123.8,144.2 119,148.2 114,154.1 111,156.8 107.5,162.3 103.9,165.1 100.9,166.1 98.9,166 90.8,165 86.4,163.3 84.7,162.3 83,160.3 78.7,152.2 78.3,150.2 78.1,141.2 77.1,138.1 75.7,136.1 69.6,132.6 68.4,131.1 66.4,127 63.6,124.6 59.5,123.5 50.4,123.5 50.4,10.1ZM257.2,10.1 272.4,10.1 272.4,65.5 262.3,65.3 259.2,63.4 257.5,60.5 257.2,10.1ZM145.3,156.3 169.5,156.3 172.5,156.9 175.3,159.3 176.3,161.3 176.5,169.4 175.9,172.4 173.5,175.2 168.6,178.5 165.2,183.5 162.4,185.9 159.4,186.5 153.3,186.5 151.3,186.1 148.3,183.5 146.7,181.5 146.3,179.5 146.2,172.4 145.6,170.4 144.1,168.4 138.2,163.3 136.9,161.3 137.5,159.3 140.2,156.9 142.2,156.3 145.3,156.3ZM124,164.3 125.1,163.7 126.1,163.7 127.4,164.3 128,166.4 127.1,168 125.1,168.5 123.5,167.4 123.3,165.4 124,164.3ZM50.4,170.4 50.4,169.8 60.5,169.9 63.6,170.7 65.9,172.4 67.2,176.4 68,181.5 67.5,185.5 66,191.6 66.9,193.6 69.6,195.9 71.6,196.1 79.7,195.3 82.7,194.6 86.8,192.6 90.8,188 91.8,188.3 92.8,189.1 95.8,191.8 97.3,193.6 98.4,196.6 99.1,200.6 99.6,210.7 99,213.7 96.1,221.8 95.8,229.9 98.2,241 98.4,252.1 50.4,252.1 50.4,170.4Z" fill="#ffea00" fill-rule="evenodd"/><path d="M50.4,10.1 133.6,10.1 133.7,28.2 134,31.3 134.7,33.3 136.2,35.3 138.2,36.7 141.6,38.3 143.4,40.3 143.7,42.3 143.9,70.6 144.8,73.6 146.3,75.6 148.3,77.1 150.3,77.8 153.3,77.5 156.4,75.6 157.8,73.6 159.4,69.4 161,66.5 164.4,63.4 167.5,59.5 170.5,56.6 172.5,55.6 181.6,55.2 183.6,54.2 186,51.4 186.6,48.4 186.6,10.1 204.3,10.1 204.3,20.2 205.1,25.2 206.7,31.3 206.8,48.4 207,49.4 207.8,50.7 210.8,52.5 221.9,55.2 231,55.5 241.1,57.9 243.1,59.1 243.8,60.5 243.5,61.5 242.4,62.5 239.1,64.1 237.1,65.5 235.6,67.6 234,70.9 232,72.8 225,74.5 219.9,76.5 215.9,77.5 212.8,77.9 209.8,77.1 198.5,71.6 191.7,66 189.6,65.6 182.6,65.6 179.6,66.8 177.2,69.6 176.6,71.6 176.5,78.6 176.1,80.7 173.5,83.7 171.5,84.9 165.4,82.9 159.4,82.3 151.3,82.3 141.2,83.1 132.1,83.2 129.1,84.3 127.8,85.7 126.5,88.7 126.4,90.7 127.4,92.8 129.1,94.5 133.2,97 134.9,98.8 138.2,105.1 142.8,109.9 145.3,114.7 147.3,116.8 151.3,118.3 161.4,118.7 164.4,119.9 165.7,121 166.4,123 166.3,130.1 164.7,132.1 161.4,134.3 155.3,141.2 153.3,142.6 151.3,143.1 145.5,142.2 142.4,141.2 134.2,135.4 131.1,133.9 127.1,134.2 122.1,135.7 118.2,138.1 114,143.2 107.2,149.2 105.1,153.3 103.4,160.3 101.9,162.2 100.9,162.6 98.9,162.8 90.8,162.2 89.1,161.3 88.3,160.3 86.2,151.2 86.8,149.7 87.9,148.2 92.8,144.9 94.6,143.2 95.8,140.1 95.8,101.8 93,89.7 91.8,87.1 87,82.7 83.7,77.8 77.8,73.6 74.4,68.6 71.6,66.2 68.6,65.5 50.4,65.5 50.4,10.1ZM50.4,177.5 50.4,176.4 58.5,176.5 60.5,177.2 62.1,179.5 62.7,181.5 61.5,184.6 59.5,186.3 50.4,186.5 50.4,177.5ZM88.3,195.6 90.8,194.8 91.8,195.1 94,197.6 95.8,201.7 96.9,209.7 96.9,211.7 96.4,213.7 91.2,225.8 89.8,228.2 86.7,231.9 86.6,232.9 87.8,234.8 90.8,237.4 92.8,241 93.3,243 93.3,252.1 50.4,252.1 50.4,206.7 59.5,206.6 69.6,204.2 71.6,203.1 74.2,200.6 76.7,199.1 88.3,195.6Z" fill="#ff9500" fill-rule="evenodd"/><path d="M200.2,56.5 201.8,55.9 202.8,56 211.8,58.1 213.9,58.9 215.9,60.2 216.7,61.5 216.9,62.5 216.9,68.6 216.2,70.6 213.9,72.2 211.8,72.7 209.8,72 207.5,70.6 197.9,61.5 197.4,60.5 197.5,59.5 198.7,57.6 200.2,56.5ZM105.9,85.7 120,85.9 121.1,86.5 122.1,88.2 123.4,93.8 125.1,96.6 127.1,98 131.1,99.6 132.1,100.5 132.8,101.8 134.2,107.6 136.1,111.9 136.5,125 137.2,125.5 140.2,125.5 146.3,124.1 151.3,123.6 154.3,124.4 157.4,126.8 158.7,129.1 159,131.1 156.6,136.1 153.3,139.9 151.3,141 148.3,141 145.3,140.1 142,138.1 136.2,131.1 135.2,126.4 131.1,125.8 129.1,124.8 127.4,123 123.9,118 118,113.8 113.8,107.9 107.9,103.7 104.7,98.8 99.9,93.9 98.7,90.7 99.5,87.7 100.9,86.2 102.9,85.7 105.9,85.7ZM88.4,199.6 90.8,199.8 91.8,200.8 93,203.7 94.2,209.7 94.1,212.7 90.8,218.9 85.1,225.8 82.7,228 80.7,229.1 70.6,229.3 66.6,227.7 64.1,224.8 63.2,221.8 64.1,215.8 65.6,212.3 67.4,210.7 72.8,207.7 77.7,202.6 79.7,201.1 81.7,200.4 88.4,199.6Z" fill="#ff0000" fill-rule="evenodd"/><path d="M147.6,128 150.3,127.6 152.3,128.1 154.3,129.6 155.3,131.1 155.2,133.1 154,136.1 152.4,138.1 151.3,138.8 149.3,139.1 145.7,138.1 143.3,136.1 142.2,134.1 141.8,132.1 142,131.1 142.9,130.1 145.3,128.7 147.6,128ZM85.7,206.7 89.8,207.1 90.9,208.7 91.5,211.7 90.8,213.4 89.8,214.3 85.7,216.8 82.1,222.8 80.7,223.9 78.7,224.3 71.6,224.2 69.6,223.3 68.7,221.8 68.7,220.8 70.6,217.3 80.7,207.3 82.7,206.7 85.7,206.7Z" fill="#9e0000" fill-rule="evenodd"/></g></g><g clip-path="url(#land)"><path d="M205.2,62.2h0M211.6,68.6h0M148,132.2h0M90.8,202.1h0M84.4,208.5h0M78,214.8h0M90.8,214.8h0M71.7,221.2h0M84.4,221.2h0M78,227.6h0" stroke="#000" stroke-width="2" stroke-linecap="round" fill="none"/></g><g clip-path="url(#fr)"><use href="#coast"/></g><g><rect x="0" y="0" width="322.8" height="282.3" fill="none" stroke="#000" stroke-width="1.9"/><path d="M0,282.3v10.3M80.7,282.3v10.3M161.4,282.3v10.3M242.1,282.3v10.3M322.8,282.3v10.3M0,282.3h-10.6M0,201.7h-10.6M0,121h-10.6M0,40.3h-10.6" stroke="#000" stroke-width="1.9" fill="none"/><text x="0" y="315.4" font-size="16.5" text-anchor="middle">80E</text><text x="80.7" y="315.4" font-size="16.5" text-anchor="middle">100E</text><text x="161.4" y="315.4" font-size="16.5" text-anchor="middle">120E</text><text x="242.1" y="315.4" font-size="16.5" text-anchor="middle">140E</text><text x="322.8" y="315.4" font-size="16.5" text-anchor="middle">160E</text><text x="-19.3" y="288.1" font-size="16.5" text-anchor="end">0</text><text x="-19.3" y="207.5" font-size="16.5" text-anchor="end">20N</text><text x="-19.3" y="126.8" font-size="16.5" text-anchor="end">40N</text><text x="-19.3" y="46.1" font-size="16.5" text-anchor="end">60N</text></g><text class="t" x="-6" y="-15.7" font-size="23.5" font-weight="bold">(e)</text><text class="t" x="28" y="-17" font-size="16.6" font-style="italic" stroke="#000" stroke-width="0.45" textLength="157.5" lengthAdjust="spacingAndGlyphs">July, 1-Month Lead</text></g>
<g transform="translate(860.3,390.5)"><g clip-path="url(#land)"><g mask="url(#m5)"><rect x="0" y="0" width="322.8" height="282.3" fill="#86d5fd"/><path d="M50.4,10.1 186.6,10.1 186.6,54.4 187.6,55.5 193.7,55.5 211.8,55.2 213.9,54.2 216.2,51.4 216.9,48.4 216.9,10.1 272.4,10.1 272.4,252.1 50.4,252.1 50.4,10.1ZM140.2,187.2 138.2,188.7 136.4,191.6 136.2,209.7 136.6,211.7 138.2,213.7 140.2,215.6 141.2,216.1 142.2,216 145,213.7 146.2,210.7 146.2,192.6 145.6,190.6 144.1,188.5 142.2,187.2 140.2,187.2ZM180.6,56.1 177.8,58.5 177,60.5 177.5,62 178.7,63.5 180.6,64.8 181.6,65 183.6,64.2 186,61.5 186.5,59.5 186.6,56.5 185.6,55.5 182.6,55.5 180.6,56.1Z" fill="#aef3fd" fill-rule="evenodd"/><path d="M50.4,10.1 166.4,10.1 166.5,58.5 166.7,60.5 168.3,66.5 169,71.6 168.9,79.7 167.9,83.7 165.4,86.5 161.4,88.1 151.3,88.2 146.3,87.4 140.2,85.8 134.2,85.7 132.1,86 131.1,87.1 130.6,88.7 130.6,89.7 131.1,91 132.1,91.6 136.2,92.9 138.5,94.8 139.5,96.8 141.2,104 142.2,105.9 145,108.9 147.5,112.9 150.3,115.3 152.3,115.9 156.4,115.9 160.4,115.9 162.4,115.3 165.2,112.9 168.6,107.9 174.5,103.7 177.8,98.8 179.6,97.1 182.6,95.8 190.7,95.7 192.7,95.2 195.4,92.8 198.7,87.9 201.8,85.9 229,85.7 232,85.9 234.9,87.7 239.1,93.6 245,97.8 249.2,103.7 255.1,107.9 258.5,112.9 260.3,114.7 263.3,115.9 272.4,115.9 272.4,236.9 183.6,236.9 181.6,236.7 179.6,235.7 177.2,232.9 177,231.9 177.8,229.9 179.6,228.1 184.6,224.7 188.8,218.8 194.7,214.6 196,212.7 196,210.7 194.5,208.7 191.7,206.9 162.4,206.6 159.4,205.4 157,202.7 156.4,200.6 156.4,196.6 156.4,192.6 157,190.6 158.5,188.5 163.4,185.3 165.4,183.1 166.4,180.5 166.5,172.4 167.1,170.4 169.5,167.6 174.4,164.3 175.5,162.9 176,161.3 175.5,159.8 174.4,158.3 168.5,154.1 164.3,148.2 159.4,144.9 157.6,143.2 156.4,140.1 156.4,136.1 152.3,136.2 149.3,137.4 147.5,139.1 146.5,141.2 146.3,150.2 148.3,158.3 148.5,163.3 147.4,168.4 146.3,171.4 144.3,174.3 142.2,175.8 140.2,176.4 133.2,176.4 131.1,176.2 129.5,175.4 128.1,174.3 123.1,168.4 118,164.2 114.7,159.3 112,157 111,156.8 108.9,157.6 107.2,159.3 106.2,161.3 106,170.4 106.9,173 108.9,175.2 113.8,178.5 118,184.4 123.9,188.5 125.1,190 125.6,191.6 125.1,193.1 123.9,194.6 118,198.8 113.8,204.7 108.9,208 107.2,209.7 106.2,211.7 105.9,215.8 106.9,216.8 130.1,216.9 132.1,217.9 135,220.8 135.5,221.8 135.4,222.8 134.2,224.7 132.1,226.2 130.1,226.8 111,226.6 108.9,225.6 106.6,222.8 106,220.8 105.9,216.8 100.9,217 97.8,219.1 93.7,224.8 87.9,228.9 86.8,230.3 86.2,231.9 86.8,233.5 87.9,234.9 92.8,238.2 95.2,241 95.8,243 95.8,252.1 50.4,252.1 50.4,226.9 68.6,226.8 70.6,226.6 72.2,225.8 74.4,223.8 75.4,221.8 75.7,210.7 75.7,207.7 74.6,206.7 50.4,206.7 50.4,126 59.5,126.1 61.5,126.7 64.3,129.1 67.7,134.1 72.6,137.4 74.4,139.1 75.6,142.2 75.9,161.3 77.7,164.2 79.7,165.7 80.7,165.9 82.7,165.1 84.5,163.3 87.9,158.3 92.8,155 94.6,153.3 95.6,151.2 95.8,146.2 95.8,102.8 95.6,101.8 92.8,96.8 90.8,86.8 87,82.7 83.7,77.8 77.8,73.6 74.4,68.6 71.6,66.2 68.6,65.5 50.4,65.5 50.4,10.1ZM160.4,126.7 157.6,129.1 156.6,131.1 156.4,135.1 157.4,136.1 171.5,135.9 174.4,134.1 175.8,132.1 176,131.1 175.2,129.1 173.5,127.3 171.5,126.3 163.4,126 160.4,126.7ZM69.6,177.1 66.8,179.5 65.8,181.5 65.6,189.6 66.2,192.6 68.6,195.3 72.6,197.9 74.4,199.6 75.6,202.7 75.7,206.7 79.7,206.6 81.7,206 84.5,203.7 87.9,198.6 92.8,195.3 95.2,192.6 95.8,190.6 95.8,186.5 95.8,182.5 95.2,180.5 92.8,177.7 89.8,176.5 72.6,176.5 69.6,177.1Z" fill="#ffea00" fill-rule="evenodd"/><path d="M160,66.5 161.4,66.5 162.4,67.5 163.7,70.6 163.9,78.6 163.5,80.7 162.9,81.7 161.4,82.8 157.4,83.2 151.3,83 148.3,81.7 147.3,80.7 147.1,79.7 147.6,78.6 149.3,76.9 154.2,73.6 157.6,68.6 160,66.5ZM98.3,82.7 101.9,82 120,82 123.7,82.7 126.1,84.4 127.1,86.4 127.9,89.7 128.8,91.8 130.1,93.1 135.2,96.1 136.6,97.8 137.9,100.8 139.8,110.9 139.9,120 139,125 137.2,127.7 134.5,129.1 131.1,129.7 128.1,129.2 125.6,128 123.8,126 122.4,122 121.1,120.2 116,118.3 114.4,117 113.2,114.9 112,111.2 111,110.1 105.9,108.2 104.3,106.9 103.1,104.9 101.8,100.8 96.8,96.7 95.5,94.8 94.3,91.8 94.3,88.7 95.1,85.7 96.5,83.7 98.3,82.7ZM136.2,156.3 139.2,156.3 141.2,157 143.2,160.3 143.4,161.3 142.8,163.3 141.2,165.6 140.2,166.2 133.2,166.3 131.1,165.9 127.3,162.3 126.8,161.3 127.1,159.8 129.1,157.6 131.1,156.5 136.2,156.3ZM93.5,214.8 94.8,214.5 95.2,215.8 94.8,216.3 93.8,216.3 93.3,215.8 93.5,214.8Z" fill="#ff9500" fill-rule="evenodd"/><path d="M99.4,85.7 100.9,85 102.9,84.8 121.1,85 122.5,85.7 124.1,87.3 126.3,91.8 127.8,93.8 134.2,98.4 135.2,99.8 135.9,101.8 137.1,112.9 136.9,121 136.1,123 134.4,125 133,126 131.1,126.6 130.1,126.4 128.1,125.2 126.2,123 123.6,119 117.8,114.9 113.5,108.9 107.7,104.9 103.5,98.8 98.6,94.8 97.2,92.8 96.5,90.7 97.5,87.7 99.4,85.7Z" fill="#ff0000" fill-rule="evenodd"/><path d="M101.4,87.7 118,87.5 121.1,87.9 122.9,89.7 124.7,93.8 126.1,95.7 128.1,97.1 131.1,98.5 132.7,99.8 133.7,101.8 134.4,111.9 134.3,120 133.2,122.4 131.1,123.6 129.1,122.5 125.7,117 124.1,115.6 119.5,112.9 115.6,106.9 114,105.5 109.5,102.8 105.5,96.8 99.9,92.8 98.9,90.7 99.1,89.7 99.9,88.6 101.4,87.7Z" fill="#9e0000" fill-rule="evenodd"/></g></g><g clip-path="url(#fr)"><use href="#coast"/></g><g><rect x="0" y="0" width="322.8" height="282.3" fill="none" stroke="#000" stroke-width="1.9"/><path d="M0,282.3v10.3M80.7,282.3v10.3M161.4,282.3v10.3M242.1,282.3v10.3M322.8,282.3v10.3M0,282.3h-10.6M0,201.7h-10.6M0,121h-10.6M0,40.3h-10.6" stroke="#000" stroke-width="1.9" fill="none"/><text x="0" y="315.4" font-size="16.5" text-anchor="middle">80E</text><text x="80.7" y="315.4" font-size="16.5" text-anchor="middle">100E</text><text x="161.4" y="315.4" font-size="16.5" text-anchor="middle">120E</text><text x="242.1" y="315.4" font-size="16.5" text-anchor="middle">140E</text><text x="322.8" y="315.4" font-size="16.5" text-anchor="middle">160E</text><text x="-19.3" y="288.1" font-size="16.5" text-anchor="end">0</text><text x="-19.3" y="207.5" font-size="16.5" text-anchor="end">20N</text><text x="-19.3" y="126.8" font-size="16.5" text-anchor="end">40N</text><text x="-19.3" y="46.1" font-size="16.5" text-anchor="end">60N</text></g><text class="t" x="-4.8" y="-16.5" font-size="23.5" font-weight="bold">(f)</text><text class="t" x="26.2" y="-17.8" font-size="16.6" font-style="italic" stroke="#000" stroke-width="0.45" textLength="283.5" lengthAdjust="spacingAndGlyphs">July, Average for 2-12 Month Lead</text></g>
<g transform="translate(49.7,748.3)"><g clip-path="url(#land)"><g mask="url(#m6)"><rect x="0" y="0" width="322.8" height="282.3" fill="#4096fc"/><path d="M50.4,10.1 138.7,10.1 138.7,28.2 139.2,30.5 140.9,32.3 144.3,33.8 146.3,35.3 147.7,37.3 150.3,43.5 155.1,48.4 158.4,53.3 160.4,54.7 161.4,54.7 163.4,53.9 164.1,55.5 165.4,56.2 166.7,55.5 166.4,54 164.7,52.4 166,50.4 166.4,48.4 166.4,10.1 272.4,10.1 272.4,252.1 50.4,252.1 50.4,10.1ZM157.4,209.7 152.3,210.2 151.1,210.7 150.2,211.7 150,212.7 150.3,214.2 151.3,216 153.3,216.7 160.4,216.7 170.5,214.4 180.6,214.2 189.6,213 190.8,212.7 192,211.7 191.7,210.1 190.7,209.4 189.6,209.3 163.4,209.2 157.4,209.7Z" fill="#86d5fd" fill-rule="evenodd"/><path d="M50.4,10.1 133.6,10.1 133.7,28.2 134,31.3 134.7,33.3 136.2,35.3 138.2,36.7 141.6,38.3 143.4,40.3 146.2,51.4 146.5,69.6 147.4,70.6 150.3,71.4 151.3,71.1 152.3,69.9 153.8,65.5 155.3,63.6 157.6,62.5 165.4,60.5 167.2,59.5 175,51.4 176.4,49.4 176.5,10.1 272.4,10.1 272.4,252.1 50.4,252.1 50.4,10.1ZM79.7,167.1 77,169.4 76.5,170.4 76.6,171.4 77.6,172.4 80.7,174.1 82.7,174.3 83.7,173.9 84.8,172.4 84.7,170.3 83.7,168.9 81.7,167.4 80.7,167 79.7,167.1ZM152.3,166.7 151.3,167.4 150,169.4 149.2,171.4 149.2,172.4 150.3,175 152.3,176.3 170.5,176.4 173.5,175.2 175.2,173.4 175.7,172.4 175.4,171.4 174.6,170.4 170.5,166.6 155.3,166.4 152.3,166.7ZM221.9,29.1 220.9,30.2 220.8,31.3 221.9,34.1 222.9,35 231,35.2 232.6,34.3 233.8,32.3 233.7,30.2 232,28.9 223.9,28.7 221.9,29.1ZM160.4,204.6 151.3,206.9 149.3,208 147.5,209.7 144.6,216.8 141.2,219.9 140.7,220.8 140.4,221.8 140.7,223.8 142.2,226.4 144.3,226.9 160.4,226.7 162.4,225.7 166.7,221.8 169.5,220.2 172.5,219.3 181.6,219 185.6,217.1 191.7,215.3 193.8,213.7 195.1,211.7 195.1,209.7 194.2,206.7 192.7,204.9 191.7,204.4 164.4,204.2 160.4,204.6Z" fill="#aef3fd" fill-rule="evenodd"/><path d="M186.6,10.1 272.4,10.1 272.4,252.1 166.4,252.1 166.5,233.9 166.9,231.9 167.6,230.9 170.5,227.9 172.5,226.5 181.6,224 186.6,220.2 194.7,216.4 197,213.7 198.8,207.7 199.7,205.9 200.7,204.9 202.8,204.2 209.8,204.1 211.8,203.8 213.9,202 215.4,198.6 216.9,196.6 218.9,195.2 220.9,194.4 223.9,194.1 251.2,194 253.2,192.9 253.6,191.6 252.2,190.2 248.2,188.8 246.3,187.5 244.9,185.5 243.4,181.5 242.1,180.3 240.1,179.9 222.9,179.8 219.9,179.4 217.4,178.5 215.9,177.3 214.6,175.4 213.1,171.4 211.8,170.2 209.8,169.8 181.6,169.5 179.1,168.4 176.5,166.4 172.9,161.3 171.5,160.1 169.5,159.6 162.4,158.9 156.4,158.8 152.3,159 150.4,160.3 142.2,175.1 138.2,179.5 137.1,181.5 138.2,183.5 141.2,186.1 143.2,186.5 150.3,186.6 152.9,187.5 155.7,190.6 156.3,193.6 156.1,200.6 155.2,201.7 153.3,202.6 148.3,204 145.4,205.7 144,207.7 142.2,212.6 141.2,213.7 139.2,214.8 138.2,215.8 137.9,216.8 137.6,222.8 139.7,233.9 140.1,252.1 50.4,252.1 50.4,206.7 59.5,206.5 61.5,204.8 62.7,201.7 61.5,198.5 59.5,196.8 50.4,196.6 50.4,176.4 69.6,176.5 77.3,178.5 80.7,178.6 83.7,177.2 85.6,175.4 88.1,171.4 89.8,167.7 93.8,163.3 94.9,161.3 94.6,160.3 92.8,158.3 90.8,156.7 89.8,156.4 50.4,156.3 50.4,62.1 69.6,62.1 74.6,63.3 77.3,65.5 79.4,70.6 80.4,71.6 84.7,73.4 86.8,74.8 88,76.6 89.8,81.4 90.8,82.6 91.8,83 138.2,83.2 141.2,82.7 142.2,81.6 144,77.6 144.8,76.6 147.3,75.2 152.3,73.6 154.3,71.6 156.4,68.1 158.4,65.9 161.4,64.4 168.9,63.5 171.5,62.8 173.1,61.5 176.2,57.5 178.5,55.2 180.6,53.7 185.2,51.4 186.1,50.4 186.6,47.4 186.6,10.1ZM220.9,25.8 218.2,28.2 217.5,29.2 217.1,31.3 219.2,40.3 219.6,50.4 220.9,53.6 221.9,54.7 223.9,55.4 240.1,55.4 242.1,55.2 243.1,54.6 244.1,52.9 244.6,50.4 244.4,40.3 243.2,37.3 238.6,29.2 236,27 232,25.4 223.9,25.2 220.9,25.8ZM250.2,58.4 248.1,59.5 247.7,60.5 247.9,61.5 250.2,64.2 251.2,64.7 252.2,64.4 253.2,62.8 253.4,60.5 252.2,58.7 250.2,58.4ZM129.1,199.6 121.1,200.5 100.9,200.7 99.1,201.7 98.4,202.7 96.6,210.7 97,211.7 98.8,212.7 101.9,213.3 130.1,213.3 134.9,212.7 135.9,211.7 136.1,210.7 136.2,203.7 135.7,201.7 134.7,200.6 132.7,199.6 129.1,199.6Z" fill="#ffea00" fill-rule="evenodd"/><path d="M206.8,10.1 272.4,10.1 272.4,68.1 262.3,67.9 260.3,67 258.9,65.5 258,63.5 256.8,59.5 255.4,56.5 253.8,54.4 250.5,51.4 250,50.4 249.5,39.3 248.8,35.3 247.6,31.3 245.1,27.4 240.9,24.2 238.1,23 233,21.9 222.9,21.8 219.9,22.3 216.9,23.5 215.2,25.2 213.9,28.2 213.5,31.3 214.3,40.3 214.5,51.4 216.8,61.5 216.9,69.6 218.2,72.6 219.9,74.4 224.8,77.6 229,83.5 234.9,87.7 239.1,93.6 245,97.8 249.2,103.7 255.1,107.9 258.5,112.9 260.3,114.7 263.3,115.9 272.4,115.9 272.4,252.1 176.5,252.1 176.6,233.9 177.2,231.9 179.6,230.3 185.6,227.7 187.5,225.8 189.1,222.8 190.7,221.3 195.7,219.7 197.7,218.7 199.2,216.8 200.7,211.7 201.8,210 203.8,209.2 211.8,209.1 214.9,208.1 217.7,205.7 220.4,200.6 221.9,199.5 222.9,199.2 250.2,199.1 253.8,198.6 256.2,197.4 258.1,195.6 259.1,193.6 259.3,191.6 258.2,190 256.5,188.5 250.2,185.3 248.4,183.5 245.1,178.6 242.1,176.7 221.9,176.2 218.9,174.3 214.7,168.4 212.8,167 210.8,166.4 183.6,166.3 181.6,166 179.1,164.3 174.5,158.8 171.5,156.5 161.4,153.9 157.4,153.8 152.3,153.8 150.3,154.7 148.1,157.3 145.2,163.3 142.2,167.6 140.2,169.3 135.3,172.4 132.1,175.5 130.1,178.2 129.1,180.5 129.2,182.5 131.1,186.1 134.9,190.6 135.2,191.6 134.6,192.6 127.1,196.2 122.1,197.6 101.9,197.9 97.8,198.7 95.8,199.6 93.6,201.6 88.8,210.7 88.6,212.7 89.4,214.8 90.8,216.3 91.8,216.7 129.1,216.8 131.1,217 132.6,217.8 134.2,219.8 135,222.8 137.3,241 137.4,252.1 50.4,252.1 50.4,224.3 60.5,224.1 63.7,222.8 65.4,220.8 65.6,212.7 67.5,205.7 67.9,200.6 66.1,192.6 66.1,190.6 65.7,189.6 64.6,189.2 62.7,187.5 62.7,186.5 63.8,185.5 65.6,185 67.6,185.3 70.6,186.4 79.7,186.3 80.7,185.5 83.5,180.5 88.8,174.8 90.8,173.3 96.7,170.4 100.9,166.4 102.7,163.3 103.1,161.3 102.5,159.3 100.9,156.5 91.8,147.4 89.8,146.8 81.7,148.5 79.7,148.4 77.7,147.6 74.8,145.2 72.9,141.2 71.6,139.6 65.6,136.1 64.1,134.1 62.8,131.1 61.5,129.6 59.5,128.7 50.4,128.6 50.4,65.5 68.6,65.5 71.6,66.2 74.4,68.6 77.8,73.6 83.7,77.8 85.1,79.7 88.3,85.7 89.8,87.3 91.8,88.1 145.3,88.2 146.3,87.7 146.4,81.7 147.2,79.7 149.3,77.8 153.3,75.9 155.1,74.6 158.4,69.6 160.4,67.6 162.4,67 171.5,67.8 173.5,67.4 176.5,65.5 180.2,59.5 181.6,58.5 182.6,58.4 185.2,59.5 190.7,64.5 191.7,65 192.7,64.8 195.4,62.5 198.9,57.5 203.8,54.2 205.5,52.4 206.6,50.4 206.8,48.4 206.8,10.1ZM213.9,85.6 214.9,86.4 215.9,86.5 217.7,85.7 215.9,85 213.9,85.6ZM85.7,224.4 84.7,225.2 84.4,225.8 84.6,226.9 85.7,227.7 86.8,227.6 87.6,226.9 87.8,225.8 86.8,224.5 85.7,224.4ZM147.3,88.2 146.3,88.7 146.6,90.7 147.6,92.8 149.3,94.5 153.3,97 156.9,100.8 158.4,101.6 160.4,102.1 161.4,101.9 162.4,101.1 165.4,91.8 165.4,90.7 164.5,89.7 162.4,88.7 160.4,88.3 147.3,88.2ZM182.6,75.6 182.1,76.6 183.6,77.5 184.6,77.3 185.7,76.6 185.3,75.6 184.6,75.3 182.6,75.6Z" fill="#ff9500" fill-rule="evenodd"/><path d="M257.2,10.1 272.4,10.1 272.4,63 264.3,63 262.3,62.4 260.9,60.5 259.5,54.4 257.3,49.4 257.2,10.1ZM184.5,64.5 185.6,64.5 186.6,65.2 186.9,65.5 186.6,66.7 185.6,67.3 184.6,67.2 183.6,66.5 183.4,65.5 184.5,64.5ZM50.4,69.6 50.4,69 68.6,69 70.6,69.4 71.9,70.6 73.4,74.6 74.8,76.6 76.7,77.9 80.7,79.4 81.9,80.7 83.5,86.7 85.6,91.8 85.7,93.8 85.7,139.1 85,141.2 82.7,142.8 80.7,143.1 79.2,142.2 75.7,136.1 69.6,132.6 68.4,131.1 66.4,127 64.3,125 60.5,123.6 50.4,123.5 50.4,69.6ZM160.8,70.6 162.4,69.9 163.4,70 166.7,71.6 169.5,74.4 174.4,77.6 177.3,81.7 179.1,82.7 181.6,82.9 184.6,81.8 189.6,77.2 191.7,76.1 193.7,76.9 198.6,81.7 201.8,83.1 206.8,84.1 210.8,87.4 215.9,89.7 216.4,90.7 216.2,91.8 214.9,93.6 211.8,96.3 210.8,97.6 207.6,104.9 205.8,106.7 201.8,108.7 200.3,109.9 199.7,111.9 200.4,113.9 201.8,115.7 205.5,119 208.8,123.9 214.7,128 218.1,133.1 220.9,135.5 222.9,136.1 231,136.2 233,136.7 235,138.3 238.3,143.2 240.5,145.2 243.1,146.1 251.2,146.3 253.2,146.8 255.2,148.4 258.5,153.3 261.3,155.6 263.3,156.2 272.4,156.3 272.4,186.5 263.3,186.4 258.2,184.3 252.2,182.7 250.9,181.5 249.4,177.5 248.2,175.6 246.6,174.4 244.1,173.5 241.1,173 223.9,173 221.9,172.6 220.7,171.4 219.1,167.4 217.9,165.5 216.3,164.3 213.9,163.4 209.8,162.9 183.6,162.9 181.6,162.5 180.2,161.3 177.5,157.4 175.4,155.3 172.5,153.4 167.4,151.2 163.4,147.5 161.4,146.6 151.3,148.8 146.5,151.2 144.4,154.3 142.6,161.3 141.2,163.4 139.2,164.8 127.9,170.4 126.1,171.9 124.7,175.4 123.8,180.5 124.2,182.5 127.9,190.6 127.8,191.6 126.1,193.2 123.1,194.6 120,195.3 98.9,195.4 87.8,196.6 86.8,196.6 85.7,195.6 85.9,182.5 86.9,180.5 89.8,177.4 91.8,176.4 100.9,174.1 112,173.6 114.4,172.4 115,171.4 113.9,169.4 110.2,165.4 108.9,162.9 106.2,151.2 105.9,146.2 102.9,146.2 100.9,145.7 98.9,144.2 96.3,141.2 95.8,139.1 95.8,123 96.5,120 98.9,117.2 100.9,116.4 102.9,117.2 105.3,120 105.9,123 105.9,145.2 106.9,146.2 110,146 112,145 114.9,142.2 118,138.3 123.1,134.1 128.1,128.2 130.1,126.7 132.1,126.1 140.2,125.9 142.2,124.9 145.2,122 148.3,118.1 151.3,115.5 155.3,108.4 157.4,107 162.4,105.2 164.4,103.7 165.8,101.8 168.5,96.5 173,91.8 173.6,90.7 173.7,89.7 173.3,87.7 172.5,86.4 170.5,85.2 166.4,84 162.4,83.3 152.3,83 151.3,82.6 150.6,81.7 150.7,80.7 151.3,80 156.4,78.2 158.2,76.6 160.8,70.6ZM79.1,197.6 81.7,196.7 84.7,196.6 85.7,197.6 85.5,201.7 84.1,206.7 82.9,212.7 81.7,215.2 80.7,216 79.7,216 77.7,214.6 76.3,212.7 75.7,210.7 75.9,201.7 76.9,199.6 79.1,197.6ZM98.7,220.8 103.9,220.2 129.1,220.2 131.1,220.8 132.3,222.8 132.7,230.9 134.7,241 134.9,252.1 95.8,252.1 95.9,223.8 96.8,221.8 98.7,220.8ZM68.1,227.9 71.6,226.9 79.7,226.9 81.7,227.8 84.9,230.9 85.5,231.9 85.7,233.9 85.7,252.1 50.4,252.1 50.4,229.4 60.5,229.3 68.1,227.9Z" fill="#ff0000" fill-rule="evenodd"/><path d="M189.2,86.7 191.7,86.1 201.8,88.4 204.8,89.7 205.9,90.7 206.1,91.8 203.8,101.1 202.1,102.8 198.7,104.4 196.7,105.9 195.3,107.9 192.7,114.6 188.6,118.1 186.9,121 186.6,150.2 186,152.2 184.6,154.1 182.6,155.4 181.6,155.2 177.4,151.2 176.6,149.2 176.3,141.2 175.3,139.1 173.5,137.4 170.5,136.2 162.4,136.2 159.4,137.4 155.9,141.2 153.3,142.8 143.2,145.4 140.2,146.8 138.3,148.2 136.4,151.2 135.9,160.3 133.9,162.3 131.1,163.7 122.1,165.7 121.1,165.7 119,164.3 116.5,161.3 116,159.3 116.1,152.2 116.5,151.2 118,149.2 123.9,144.2 128.1,139.2 131.1,136.6 133.2,136.1 141.2,135.9 144.1,134.1 148.3,129.1 154.2,124 155.8,122 157.4,118.5 159.4,110.9 160.5,109.9 165.4,108.1 167.5,106.7 168.7,104.9 170.6,99.8 171.5,98.8 176.5,95.8 178,93.8 179.3,90.7 180.6,89.1 182.6,88.2 189.2,86.7ZM96.1,179.5 101.9,179 108.9,179 113,179.6 115.7,181.5 118,184.4 121.1,187.2 122.5,189.6 122.7,190.6 122.4,191.6 120,192.6 105.9,192.7 100.3,192.6 96.9,191.6 90.8,185.7 89.6,182.5 89.8,181.5 90.8,180.4 92.8,179.8 96.1,179.5ZM116,236.9 128.1,236.9 130.1,237.4 131.1,238.6 132.2,242 132.3,252.1 105.9,252.1 106,243 106.9,240.4 108.9,238.2 111,237.2 116,236.9Z" fill="#9e0000" fill-rule="evenodd"/></g></g><g clip-path="url(#land)"><path d="M262.5,30.4h0M173.4,81.3h0M179.8,87.6h0M192.5,87.6h0M205.2,87.6h0M173.4,94h0M186.2,94h0M198.9,94h0M211.6,94h0M179.8,100.4h0M192.5,100.4h0M205.2,100.4h0M160.7,106.7h0M173.4,106.7h0M186.2,106.7h0M198.9,106.7h0M154.3,113.1h0M167.1,113.1h0M179.8,113.1h0M192.5,113.1h0M160.7,119.4h0M173.4,119.4h0M186.2,119.4h0M154.3,125.8h0M167.1,125.8h0M179.8,125.8h0M192.5,125.8h0M135.3,132.2h0M148,132.2h0M160.7,132.2h0M173.4,132.2h0M186.2,132.2h0M103.5,138.5h0M128.9,138.5h0M141.6,138.5h0M154.3,138.5h0M122.5,144.9h0M135.3,144.9h0M148,144.9h0M116.2,151.2h0M128.9,151.2h0M141.6,151.2h0M109.8,157.6h0M122.5,157.6h0M135.3,157.6h0M116.2,164h0M128.9,164h0M122.5,170.3h0M103.5,176.7h0M116.2,176.7h0M97.1,183h0M109.8,183h0M122.5,183h0M90.8,189.4h0M103.5,189.4h0M116.2,189.4h0M78,202.1h0M103.5,227.6h0M71.7,233.9h0M109.8,233.9h0M109.8,246.6h0" stroke="#000" stroke-width="2" stroke-linecap="round" fill="none"/></g><g clip-path="url(#fr)"><use href="#coast"/></g><g><rect x="0" y="0" width="322.8" height="282.3" fill="none" stroke="#000" stroke-width="1.9"/><path d="M0,282.3v10.3M80.7,282.3v10.3M161.4,282.3v10.3M242.1,282.3v10.3M322.8,282.3v10.3M0,282.3h-10.6M0,201.7h-10.6M0,121h-10.6M0,40.3h-10.6" stroke="#000" stroke-width="1.9" fill="none"/><text x="0" y="315.4" font-size="16.5" text-anchor="middle">80E</text><text x="80.7" y="315.4" font-size="16.5" text-anchor="middle">100E</text><text x="161.4" y="315.4" font-size="16.5" text-anchor="middle">120E</text><text x="242.1" y="315.4" font-size="16.5" text-anchor="middle">140E</text><text x="322.8" y="315.4" font-size="16.5" text-anchor="middle">160E</text><text x="-19.3" y="288.1" font-size="16.5" text-anchor="end">0</text><text x="-19.3" y="207.5" font-size="16.5" text-anchor="end">20N</text><text x="-19.3" y="126.8" font-size="16.5" text-anchor="end">40N</text><text x="-19.3" y="46.1" font-size="16.5" text-anchor="end">60N</text></g><text class="t" x="-7.7" y="-16.3" font-size="23.5" font-weight="bold">(g)</text><text class="t" x="27.8" y="-16.8" font-size="16.6" font-style="italic" stroke="#000" stroke-width="0.45" textLength="178" lengthAdjust="spacingAndGlyphs">August, 0-Month Lead</text></g>
<g transform="translate(455.0,748.3)"><g clip-path="url(#land)"><g mask="url(#m7)"><rect x="0" y="0" width="322.8" height="282.3" fill="#0000cd"/><path d="M50.4,10.1 272.4,10.1 272.4,252.1 50.4,252.1 50.4,10.1ZM77.7,175.2 74.3,176.4 74.2,177.5 76,178.5 79.7,179.1 81.7,178.9 83.8,177.5 83.5,176.4 81.7,175.3 79.7,175 77.7,175.2ZM152.3,86 151.3,86.9 150.4,88.7 150.3,90.8 151.3,92 155.3,93.5 157.4,94.9 158.6,96.8 160.2,100.8 161.4,101.9 163.4,101.9 165.7,100.8 169.5,97 174.4,93.8 175.8,91.8 176,90.7 175.2,88.7 173.5,87 171.5,85.9 155.3,85.7 152.3,86ZM197.7,68.4 192.7,69.4 190.8,70.6 190.5,72.6 191.7,75 192.7,75.7 194.7,76.3 199.7,77 201.8,76.9 204.8,74.7 207.3,71.6 207.3,70.6 206.3,69.6 203.8,68.4 201.8,67.9 197.7,68.4Z" fill="#4096fc" fill-rule="evenodd"/><path d="M50.4,10.1 257.2,10.1 257.4,49.4 259.6,53.4 261.1,59.5 262.3,61.5 264.3,62.1 272.4,62.1 272.4,252.1 50.4,252.1 50.4,10.1ZM79.7,170.2 76.8,171.4 74.7,173.4 71.4,175.4 70.4,176.4 70.4,177.5 71.6,178.8 75.8,181.5 76.5,182.5 77.9,185.5 79.4,191.6 80.7,193 81.7,192.9 82.7,191.9 84.3,188.5 85.7,186.5 91.8,182.9 92.6,181.5 92.6,180.5 90.5,176.4 86.1,172.4 82.3,170.4 79.7,170.2ZM198.7,65.5 192.7,66.7 189.6,67.9 187,70.6 185.6,74.4 184.6,76.1 182.6,77.6 180.6,77.9 175.5,77.1 171.5,75.6 168.6,73.6 165.4,69.6 162.4,66.7 161.4,66.2 159.9,66.5 157.6,68.6 155.1,72.6 151.3,76.1 149.7,78.6 148.1,82.7 146.8,87.7 146.5,89.7 146.9,91.8 149.3,94.5 154.3,97.9 158.5,103.8 161.4,105.6 170.5,105.8 182.6,103 184.6,102.2 186.1,100.8 186.5,99.8 186.9,90.7 188.6,87.9 192.7,85.2 201.8,83 206.3,80.7 208.8,78.9 210.8,76.8 213.5,72.6 213.8,70.6 213.3,69.6 210.8,67.6 203.8,65.2 201.8,65 198.7,65.5ZM154.3,175.4 152.3,176.4 149.9,180.5 149.6,181.5 150.3,182.8 152.3,183.9 159.4,184 161.4,183.6 162.8,182.5 163.1,181.5 162.4,180.1 161.4,179.3 158.4,178.3 156.4,176.1 154.3,175.4ZM170.5,117.3 168.5,119 167.8,120 167.6,121 168.5,122 170.5,122.8 172.1,122 172.7,120 171.5,117.4 170.5,117.3Z" fill="#86d5fd" fill-rule="evenodd"/><path d="M50.4,10.1 247.1,10.1 247.2,28.2 247.6,30.2 249.4,34.3 250.1,37.3 250.9,50.4 256.2,55.5 259.4,62.5 261.3,64.7 263.3,65.5 272.4,65.5 272.4,252.1 50.4,252.1 50.4,176.4 59.5,176.5 62.5,177.9 66.1,181.5 70.6,184.2 72.6,185.9 74.4,188.5 77.5,195.6 79.1,197.6 80.7,198.6 82.7,198.5 85.7,196.6 89.2,190.6 95.2,185.5 96.9,183.5 97.8,181.5 97.3,179.5 93.8,172.4 92,170.4 89.8,169.5 79.7,167 69.6,168.7 65.6,168 59.5,166.4 50.4,166.4 50.4,10.1ZM99.9,207.4 97.8,208.9 96.1,211.7 96.1,220.8 97.8,222.4 100.9,223.3 108.9,223 111,222.4 112,221 112.2,219.8 112.5,212.7 111.8,210.7 110,209.2 101.9,207.3 99.9,207.4ZM150.3,46.1 147.5,48.4 146.3,51.4 146.2,69.6 143.9,79.7 143,88.7 143.1,91.8 144,94.8 145.4,96.8 147.3,98 151.3,99.6 152.3,100.5 154.1,104.9 155.5,106.9 157.4,108.1 163.4,109.9 164.9,110.9 165.1,111.9 160.6,117 159.4,119.5 159.4,122 161,125 163.4,126.9 167.5,127.9 170.5,128.3 172.5,127.2 174.8,124 176.3,121 176.7,111.9 177.2,110.9 178.4,109.9 180.6,108.9 182.6,108.8 185.3,109.9 190.7,114.8 192.7,115.8 199.7,115.9 201.8,115.5 202.8,114.5 203.6,112.9 203.8,109.9 202.1,106.9 198,102.8 196.9,100.8 196.9,91.8 198.6,89.7 205.8,85.3 209.8,83.2 214.9,81.3 217.2,79.7 218.3,76.6 219.2,71.6 218.9,69 217.7,66.5 215.6,64.5 212.8,63.3 207.8,62.4 201.8,62 191.7,64.3 188.6,65.4 185.4,67.6 182.6,71.5 181.6,72.3 179.6,72.2 175.6,69.6 162.4,56.7 158.5,53.4 154.2,47.4 152.3,46.1 150.3,46.1ZM153.3,173.2 151.3,173.8 149,175.4 146.3,178.1 144.6,180.5 144.6,182.5 146.9,185.5 150.3,188.3 153.3,189 161.4,188.9 164.4,188 166.4,186.5 167.9,184.5 168.7,181.5 167.9,178.5 166.4,176.4 164.4,175 162.4,174.2 155.3,173.2 153.3,173.2Z" fill="#aef3fd" fill-rule="evenodd"/><path d="M166.4,10.1 239.6,10.1 239.7,29.2 240.5,31.3 245.1,36 246.7,39.3 247.1,41.3 247.2,50.4 248.2,53.4 249.2,54.4 252.2,55.8 254.2,57.6 255.8,60.5 257.2,65.5 259.2,67.8 262.3,68.8 272.4,69 272.4,252.1 50.4,252.1 50.4,186.5 59.5,186.5 64.6,187.1 67.6,187.9 70.6,189.5 72.1,191.6 73.4,197.6 74.8,200.6 79.7,205.6 83.6,208.7 85.2,210.7 86.9,214.8 88.8,222.8 90.7,225.8 91.8,226.7 100.9,226.8 110,225.6 112,224.8 113.1,223.8 114.5,221.8 115.8,212.7 115.2,209.7 113,206.1 111,204.4 105.9,201.5 98,194.6 96.7,192.6 96.7,191.6 97.4,190.6 103.9,183.5 105.2,181.5 104.6,179.5 100.9,175.7 97.8,170.4 96.8,169.5 85.7,166.4 80.7,163.6 77.7,163.4 71.6,163.7 69.5,163.3 66.4,161.3 65.6,159.3 65.6,156.3 50.4,156.3 50.4,65.5 68.6,65.5 71.6,66.2 74.4,68.6 77.7,73.5 83.6,77.6 87,82.7 89.8,85 90.8,85 96.8,82.9 101.9,82.3 121.1,82.4 124.1,83 126.1,84 128.1,86.3 130.1,91.1 131.1,92 135.2,93.5 137,94.8 138.4,96.8 140.4,101.8 142.2,103.5 145.3,105 147.1,106.9 149.7,112.9 153.2,119 155.8,130.1 155.7,132.1 154.2,134.1 148.3,139.1 147.7,140.1 147.8,141.2 149.3,142.2 151.3,142.6 161.4,142.9 165.4,144 168.1,146.2 169.8,150.2 170.5,151.2 171.5,151.7 173.2,151.2 173.8,150.2 174,133.1 174.4,131.1 178.1,125 180.6,119 181.6,117.4 182.6,117.3 183.6,118 190.7,124.9 192.7,125.9 210.8,126 213.9,124.8 216.2,122 216.4,121 215.6,119 211.1,114.9 209.8,112.5 208,103.8 205.1,95.8 204.6,92.8 204.9,90.7 207.8,88 211.8,85.9 220.9,85.7 223.9,84.4 225.7,82.7 229,77.8 234.9,73.6 238.3,68.6 243.1,64.1 244.2,61.5 244,59.5 242.1,58.1 231,55.5 222.9,55.5 216.9,57.1 211.8,57.9 201.8,56.2 195.3,60.5 192.2,61.5 185.6,62.8 181.6,64.5 180.6,64.3 176.3,60.5 170.7,56.5 169,54.4 166.8,50.4 166.4,48.4 166.4,10.1ZM69.6,136.8 66.8,139.1 65.6,142.2 65.6,155.3 66.6,156.3 70.6,156 72.6,155 74.6,152.9 75.6,150.2 75.6,142.2 75,140.1 72.6,137.4 70.6,136.6 69.6,136.8ZM99.9,146.8 97.1,149.2 96.3,151.2 96.5,152.2 97.8,154.1 100.9,156 110,156.1 112,154.8 114.9,151.2 114.7,150.2 113,148.2 111,146.6 110,146.3 101.9,146.3 99.9,146.8ZM181.6,159.7 180.6,161.3 179.6,165.2 178.5,167.2 177.4,168.4 175.5,169.3 171.5,170.2 150.3,170.5 145.1,172.4 143.2,173.9 141.4,176.4 139.3,180.5 139.2,182.5 141.2,186.5 145.6,191.6 146.1,192.6 146.3,209.7 147,211.7 148.2,212.7 150.3,213.8 153.3,214.2 190.7,214.2 191.7,213.9 193.2,212.7 195.9,207.7 198.7,205.3 201.8,204.3 210.8,204.1 212.8,203.2 214.1,201.7 215.4,198.6 216.9,196.6 219.9,194.7 223.9,194.1 251.2,194 253.2,193 254.2,191.6 254,189.6 253.2,187.9 249.2,184.4 245.9,179.5 243.1,177.1 240.1,176.5 221.9,176.2 218.9,174.3 215.6,169.4 212.8,167 209.8,166.4 191.7,166.1 188.8,164.3 185.2,160.3 182.6,159.3 181.6,159.7ZM114,175.2 113.5,176.4 114,176.8 115,176.6 115,175.4 114,175.2Z" fill="#ffea00" fill-rule="evenodd"/><path d="M206.8,10.1 234.5,10.1 234.5,28.2 234.8,31.3 235.6,33.3 237.1,35.3 242.1,38.3 243.4,40.3 243.7,48.4 243.1,51.4 242.1,52.2 241.1,52.3 238.1,50.8 234,46.6 229,43.2 224.8,37.3 222.9,36 221.9,35.8 219.9,36.6 217.5,39.3 216.9,41.3 216.9,48.4 216.2,50.4 213.9,52 211.8,52.6 209.8,52 207.5,50.4 207,49.4 206.8,47.4 206.8,10.1ZM180.4,52.4 184.6,52.2 188.6,52.8 190.7,53.7 191.4,54.4 191.4,55.5 190.5,56.5 187.6,57.4 184.6,57.8 181.6,57.7 178.5,56.5 177.3,55.5 177,54.4 177.8,53.4 180.4,52.4ZM250.4,60.5 251.2,59.8 252.2,60 252.6,60.5 252.9,61.5 252.2,63.7 251.2,63.7 250.5,62.5 250.2,61.5 250.4,60.5ZM105.9,85.7 120,85.8 122.7,86.7 124.8,88.7 128.3,93.8 133.2,97 134.9,98.8 138.2,105.1 143.4,110.9 146.2,122 146.2,130.1 145.1,132.1 137.1,141.2 137,142.2 138.3,144.2 140.2,145.6 142.2,146.1 161.4,146.4 164.3,148.2 168.6,153.3 171.5,154.8 175.5,155.6 176.5,156.3 177.4,158.3 177.6,161.3 176.8,163.3 175.3,165.4 172.5,167.1 169.5,167.6 152.3,167.6 149.3,168 141.2,169.9 139.2,171.3 138.3,172.4 134.7,179.5 133.9,182.5 134.5,186.5 136.1,192.6 136.3,210.7 137.3,212.7 139.2,214.8 141.2,216.6 143.2,217.6 151.3,219.2 189.6,219.3 192.7,219 194.7,218.2 196.7,216.8 198.1,214.8 199.7,211.4 201.8,209.6 203.8,209.2 211.8,209.1 215.9,207.5 217.9,205.4 219.9,201.3 221.9,199.5 223.9,199.2 250.2,199.1 253.2,198.8 256,197.6 258.1,195.6 260.4,189.6 261.3,188 262.3,187 264.3,186.5 272.4,186.5 272.4,252.1 50.4,252.1 50.4,224.3 59.5,224.2 61.5,223.3 63.1,220.8 65.4,210.7 64.9,208.7 61.5,207.1 58.5,206.7 50.4,206.7 50.4,196.6 56.5,196.6 58.5,196 61.3,192.6 63.6,190.8 65.6,190.6 67.4,191.6 68.8,193.6 69.3,196.6 68.5,203.7 68.6,205.7 72.6,208.7 80.7,217 87.8,230.9 89.2,232.9 90.8,233.9 92.8,233.8 99.9,230.5 112,227.7 115,225.6 116.3,223.8 117.2,221.8 119.2,211.7 119,208.7 118,205 116,201.7 108,193.6 106.8,191.6 108,189.6 114.9,182.5 117.5,177.5 117.4,174.4 115.5,170.4 114.1,165.4 113.7,162.3 114.2,160.3 117.7,156.3 123.8,152.2 124.9,151.2 125.2,150.2 123.9,148.2 120,145.1 116,140.8 114.8,138.1 113.5,132.1 112.5,130.1 111,128.8 107.9,127.5 105.9,126 104.5,124 103.1,121 101.9,119.5 95.8,115.9 93.9,112.9 93.3,109.9 93.3,92.8 93.7,90.7 95.2,88.7 98.9,86.5 101.9,85.7 105.9,85.7ZM211.5,89.7 213.9,89.7 217.9,92.2 219.4,93.8 219.6,94.8 219,95.8 216.9,96.9 214.9,97.3 212.8,97.2 210.8,96.1 210,94.8 209.8,91.8 210.2,90.7 211.5,89.7ZM181.1,128 181.6,127.6 182.6,127.4 183.6,128.1 186.2,131.1 186.6,133.1 186.5,150.2 185.2,152.2 183.6,153.1 181.6,153.5 180.5,153.3 179.6,152.3 179.1,149.2 179.1,132.1 179.8,130.1 181.1,128ZM90.3,163.3 92.8,162.9 96.8,163 100.9,164.3 101.5,165.4 100.6,166.4 98.9,166.7 91.8,166.4 89,165.4 88.6,164.3 90.3,163.3Z" fill="#ff9500" fill-rule="evenodd"/><path d="M100.1,89.7 101.9,89.2 103.9,89.1 119,89.1 121.1,89.6 122.3,90.7 123.8,94.8 125.3,96.8 127.1,98 131.1,99.6 132.4,100.8 133.9,106.9 136.1,111.9 136.2,120 137.9,126 138.5,130.1 137.3,133.1 133.2,137.2 130.1,138.4 125.1,137.6 122.1,136.5 120,134.3 117.4,128 116,126 110,122.5 108.7,121 107.4,118 105.9,115.9 103.9,114.5 100.9,113.2 99.4,111.9 98.7,110.9 98.4,108.9 98.4,92.8 99,90.7 100.1,89.7ZM149,150.2 153.3,149.6 159.4,149.6 161.4,150 166.4,155.3 173.5,158.8 174.6,160.3 174.4,162.3 172.5,164.3 170.5,165 151.3,165.1 141.2,166.4 138.2,167.6 135.6,169.4 131.1,175.3 130.1,175.5 129.1,175.1 127.3,173.4 121.1,166.1 119.4,163.3 119.1,161.3 120.7,159.3 130.1,154.3 132.1,153.8 141.2,153.6 149,150.2ZM120.4,187.5 122.1,187.3 123.1,187.8 124.8,189.6 125.6,191.6 124.8,193.6 122.1,195.8 121.1,195.9 120,195.4 118,193.5 116.9,191.6 118.1,189.6 120.4,187.5ZM63.6,193.6 64.6,193.1 66.1,193.6 66.9,194.6 67.4,196.6 67.3,198.6 66.6,200.5 65.6,201.7 64.6,202.1 63.2,201.7 62,199.6 62.1,196.6 63.6,193.6ZM126.1,216.8 129.1,216.8 131.1,217.2 134.2,219.8 138.3,224.8 141.2,226.6 170.5,226.9 172.5,227.5 174.4,228.9 175.8,230.9 176,231.9 175.5,233.5 173.5,235.7 168.6,239 166.7,242 166.4,252.1 105.9,252.1 105.9,234.9 106.3,232.9 107.6,231.9 114.8,229.9 117,228.7 118,227.7 119,225.8 121.1,218.4 122.1,217.2 123.1,216.8 126.1,216.8ZM69.6,218.8 70.6,218 71.6,218.1 72.6,218.8 77.7,224.7 80.7,227.6 82.7,230.9 84.3,234.9 85.7,236.9 87.8,238.4 93.8,240.6 95.3,242 95.8,244 95.8,252.1 50.4,252.1 50.4,229.4 59.5,229.4 63.6,228.3 65.6,226.9 66.6,225.6 69.6,218.8Z" fill="#ff0000" fill-rule="evenodd"/><path d="M129.7,127 131.1,127 132.1,128 133.1,130.1 133,131.1 132.4,132.1 131.1,133 129.1,132.6 127.1,131.1 126.9,130.1 127.4,129.1 129.7,127ZM156.4,156.3 160.4,156.4 164.4,158.7 170.5,160.3 171.4,161.3 170.5,162.1 169.5,162.4 151.3,162.5 141.2,162.9 136.2,163.8 131.1,165.5 129.2,164.3 127.5,162.3 127.5,161.3 128.5,160.3 131.1,159 142.2,158.7 147.3,157.7 151.3,156.5 156.4,156.3Z" fill="#9e0000" fill-rule="evenodd"/></g></g><g clip-path="url(#land)"><path d="M128.9,125.8h0M122.5,132.2h0M135.3,132.2h0M154.3,151.2h0M135.3,157.6h0M148,157.6h0M128.9,164h0M141.6,164h0M154.3,164h0M71.7,233.9h0M109.8,233.9h0M160.7,233.9h0M78,240.3h0M71.7,246.6h0M84.4,246.6h0M109.8,246.6h0" stroke="#000" stroke-width="2" stroke-linecap="round" fill="none"/></g><g clip-path="url(#fr)"><use href="#coast"/></g><g><rect x="0" y="0" width="322.8" height="282.3" fill="none" stroke="#000" stroke-width="1.9"/><path d="M0,282.3v10.3M80.7,282.3v10.3M161.4,282.3v10.3M242.1,282.3v10.3M322.8,282.3v10.3M0,282.3h-10.6M0,201.7h-10.6M0,121h-10.6M0,40.3h-10.6" stroke="#000" stroke-width="1.9" fill="none"/><text x="0" y="315.4" font-size="16.5" text-anchor="middle">80E</text><text x="80.7" y="315.4" font-size="16.5" text-anchor="middle">100E</text><text x="161.4" y="315.4" font-size="16.5" text-anchor="middle">120E</text><text x="242.1" y="315.4" font-size="16.5" text-anchor="middle">140E</text><text x="322.8" y="315.4" font-size="16.5" text-anchor="middle">160E</text><text x="-19.3" y="288.1" font-size="16.5" text-anchor="end">0</text><text x="-19.3" y="207.5" font-size="16.5" text-anchor="end">20N</text><text x="-19.3" y="126.8" font-size="16.5" text-anchor="end">40N</text><text x="-19.3" y="46.1" font-size="16.5" text-anchor="end">60N</text></g><text class="t" x="-9" y="-14.8" font-size="23.5" font-weight="bold">(h)</text><text class="t" x="28.8" y="-16.3" font-size="16.6" font-style="italic" stroke="#000" stroke-width="0.45" textLength="177.5" lengthAdjust="spacingAndGlyphs">August, 1-Month Lead</text></g>
<g transform="translate(860.3,748.3)"><g clip-path="url(#land)"><g mask="url(#m8)"><rect x="0" y="0" width="322.8" height="282.3" fill="#0000cd"/><path d="M50.4,10.1 272.4,10.1 272.4,252.1 50.4,252.1 50.4,10.1ZM161.4,70.2 160.4,71.3 159.3,74.6 158.3,76.6 156.4,78.2 152.1,79.7 151.2,80.7 151.3,80.9 152.5,81.7 159.4,82.1 161.4,81.8 162.4,80.9 163,78.6 162.9,72.6 162.4,70.6 161.4,70.2Z" fill="#4096fc" fill-rule="evenodd"/><path d="M50.4,10.1 272.4,10.1 272.4,252.1 50.4,252.1 50.4,10.1ZM100.9,88.6 99.6,89.7 99.4,90.7 100.2,91.8 104.9,93.5 106.8,94.8 108.2,96.8 110,101.2 111,102.1 115,103.6 116.8,104.9 118.3,106.9 120,111.2 121.1,112.2 125.1,113.7 126.9,114.9 128.3,117 130.1,121.2 131.1,121.8 132.1,121.6 133,121 133.6,119 133.6,111.9 132.9,102.8 132.4,100.8 131.1,99.6 127.1,98 125.1,96.6 123.8,94.8 122.1,89.9 121.1,88.8 118,88.2 102.9,88.3 100.9,88.6ZM161.4,66.2 159.4,67.7 156.7,72.6 155.1,74.6 153.3,75.9 149.3,77.8 147.3,79.7 147,80.7 148.4,82.7 151.3,84.3 160.4,85.5 162.4,85 165.2,82.7 166.4,79.7 166.2,70.6 164.3,67.6 162.4,66.3 161.4,66.2Z" fill="#86d5fd" fill-rule="evenodd"/><path d="M50.4,10.1 272.4,10.1 272.4,252.1 50.4,252.1 50.4,10.1ZM99.9,83.5 96.8,84.9 94.4,87.7 93.6,90.7 94.8,93.2 96.8,94.7 101.9,96.4 103.8,97.8 107.9,103.7 113.8,107.9 118,113.8 123.9,118 127.4,123 129.1,124.7 131.1,125.6 132.1,125.6 134.2,124.8 136.8,123 137.8,122 138.6,120 138.7,112.9 138.5,110.9 136,100.8 134,97.8 129.1,94.5 127.4,92.8 126.3,90.7 125,86.7 123.6,84.7 122.1,83.7 120,83.2 102.9,83.2 99.9,83.5ZM161.4,62.5 159.4,63.5 157.4,65.5 154.9,70.6 153.3,72.8 151.3,74.1 146.3,75.6 144.3,77.3 143.5,78.6 143.3,80.7 144.2,82.7 146.3,84.7 150.3,86.6 161.4,88.9 165.4,87.9 168.1,85.7 169.1,83.7 169.8,80.7 169.8,71.6 169.4,68.6 168.1,65.5 166.4,63.9 163.4,62.6 161.4,62.5Z" fill="#aef3fd" fill-rule="evenodd"/><path d="M136.2,10.1 166.4,10.1 166.2,50.4 164.3,53.4 159.4,56.7 155.3,61.2 153.6,64.5 152.3,69.8 151.3,71.1 150.3,71.4 147.4,70.6 146.5,69.6 146.3,68.6 146,40.3 144.3,37.5 138.3,33.3 136.4,30.2 136.2,10.1ZM220.4,26.2 221.9,25.7 222.9,25.9 225.7,28.2 226.9,31.3 227,39.3 227.6,41.3 230,44.1 234.9,47.4 236.3,49.4 236.6,50.4 235.8,52.4 233,54.8 230,55.4 221.9,55.2 219.9,54.2 217.5,51.4 216.9,48.4 216.9,31.3 218.2,28.2 220.4,26.2ZM180,76.6 181.6,76.1 182.6,76.3 185.3,78.6 186.5,81.7 186.6,85.7 201.8,85.9 204.8,87.9 208.1,92.8 210.8,95.2 212.8,95.7 220.9,95.8 223.5,96.8 225.7,98.8 229.1,103.8 235,108 239.2,113.9 245.1,118.1 249.3,124 255.2,128.2 258.5,133.1 260.3,134.8 263.3,136.1 272.4,136.1 272.4,186.5 252.2,186.3 249.2,184.4 245.9,179.5 243.1,177.1 240.1,176.5 221.9,176.2 218.9,174.3 214.7,168.4 212.8,167 210.8,166.4 153.3,166.4 151.3,167.4 150.3,169.3 148.8,176.4 146.9,181.5 147,182.5 148.3,184.4 153.3,187.8 155.7,190.6 156.3,193.6 156.1,201.7 154.2,204.7 148.3,208.9 145,213.7 142.8,215.8 140.2,216.7 131.1,216.5 128.1,214.6 124.8,209.7 123.1,208 121.1,206.9 118,206.7 112,206.8 110,207.3 107.2,209.7 103.9,214.6 100.9,216.5 82.7,216.8 80.7,216.5 78.7,215.5 76.7,213.4 75.7,210.7 75.7,193.6 76.3,190.6 78.7,187.8 83.7,184.4 87.9,178.5 93.8,174.3 98,168.4 103.9,164.2 105.2,162.3 105.2,160.3 103.8,158.3 100.9,156.5 90.8,156.5 87.8,158.4 84.5,163.3 82.7,165.1 80.7,166.1 78.7,166.4 71.6,166.3 69.6,165.7 66.9,163.3 66.1,161.3 66.3,160.3 67.6,158.4 73.5,154.3 76.9,149.2 79.1,147.2 81.7,146.3 90.8,146 92.8,144.9 95.2,142.2 95.8,139.1 95.9,102.8 96.6,100.8 98.4,99.8 99.9,99.6 100.9,99.7 101.9,100.6 103.7,104.9 104.9,106.7 106.9,108.1 111.3,109.9 112.2,110.9 113.8,114.9 115,116.8 117,118.2 121.4,120 122.3,121 124.4,126 126.1,127.7 128.1,128.7 131.1,129.3 137.2,128.3 140,127 143,125 145.6,122 146.2,120 146.2,111.9 145,108.9 141.2,104.9 137.9,95.8 136.2,94.1 131.1,92 130.1,90.7 130,88.7 131.1,86.5 133.2,85.7 140.2,85.9 145.3,88.5 151.7,89.7 154.9,90.7 156.5,91.8 159.8,94.8 162.4,95.7 185.6,95.8 186.6,94.8 186.6,85.7 182.6,85.6 180.6,85.1 178.5,83.5 177.2,81.7 177,80.7 177.5,79.1 180,76.6ZM187.6,95.8 186.6,96.8 186.7,109.9 187.3,111.9 188.6,113.8 190.7,115.3 193.7,115.9 201.8,115.7 204.6,113.9 205.8,112.5 206.3,110.9 206.1,109.9 204.8,108 198.9,103.8 195.4,98.8 193.7,97.1 191.7,96 187.6,95.8ZM50.4,176.4 60.5,176.7 62.5,177.7 64.9,180.5 65.6,183.5 65.3,191.6 64.3,193.6 61.5,196 59.5,196.5 50.4,196.6 50.4,176.4ZM50.4,226.9 78.7,226.9 81.7,227.5 83.7,229 87,233.9 89.8,236.3 91.8,236.9 100.9,237.2 103.9,239.1 105.3,241 105.9,243 105.9,252.1 50.4,252.1 50.4,226.9Z" fill="#ffea00" fill-rule="evenodd"/><path d="M126.1,136.1 141.2,136.4 143.2,137.4 145,139.1 145.8,141.2 145.6,142.2 143.2,144.9 140.2,146.1 122.1,146.1 120,145.6 118.2,144.2 117,142.7 116.5,141.2 116.7,140.1 118,138.3 121.1,136.4 126.1,136.1ZM136.2,156.3 141.2,156.5 143.2,157.6 145,159.3 146.2,162.3 146.3,169.4 145.9,172.4 143.7,176.4 141.7,178.5 138.1,180.5 136.4,182.5 136.1,190.6 134.9,193.6 132.8,195.6 130.1,196.5 112,196.5 108.9,195.3 106.9,193.2 106,190.6 106,182.5 107.2,179.5 108.9,177.7 114,174.3 118,168.5 123.1,164.3 129.1,157.6 131.1,156.5 136.2,156.3Z" fill="#ff9500" fill-rule="evenodd"/><path d="M136.2,166.4 139.2,166.4 141.2,167.4 142.5,170.4 142.2,172 141.2,173.3 139.2,174.2 131.1,176 130.1,175.8 128.3,174.4 126.9,172.4 126.8,171.4 128.1,169.4 131.1,166.8 133.2,166.4 136.2,166.4Z" fill="#ff0000" fill-rule="evenodd"/></g></g><g clip-path="url(#fr)"><use href="#coast"/></g><g><rect x="0" y="0" width="322.8" height="282.3" fill="none" stroke="#000" stroke-width="1.9"/><path d="M0,282.3v10.3M80.7,282.3v10.3M161.4,282.3v10.3M242.1,282.3v10.3M322.8,282.3v10.3M0,282.3h-10.6M0,201.7h-10.6M0,121h-10.6M0,40.3h-10.6" stroke="#000" stroke-width="1.9" fill="none"/><text x="0" y="315.4" font-size="16.5" text-anchor="middle">80E</text><text x="80.7" y="315.4" font-size="16.5" text-anchor="middle">100E</text><text x="161.4" y="315.4" font-size="16.5" text-anchor="middle">120E</text><text x="242.1" y="315.4" font-size="16.5" text-anchor="middle">140E</text><text x="322.8" y="315.4" font-size="16.5" text-anchor="middle">160E</text><text x="-19.3" y="288.1" font-size="16.5" text-anchor="end">0</text><text x="-19.3" y="207.5" font-size="16.5" text-anchor="end">20N</text><text x="-19.3" y="126.8" font-size="16.5" text-anchor="end">40N</text><text x="-19.3" y="46.1" font-size="16.5" text-anchor="end">60N</text></g><text class="t" x="-4.8" y="-15.7" font-size="23.5" font-weight="bold">(i)</text><text class="t" x="24.7" y="-16.9" font-size="16.6" font-style="italic" stroke="#000" stroke-width="0.45" textLength="302.4" lengthAdjust="spacingAndGlyphs">August, Average for 2-12 Month Lead</text></g>
<g stroke="#000" stroke-width="1" stroke-linejoin="miter"><path d="M208.5,1087.7L306.3,1078.7V1096.7Z" fill="#0000cd"/><rect x="306.3" y="1078.7" width="98.0" height="18.0" fill="#4096fc"/><rect x="404.3" y="1078.7" width="98.0" height="18.0" fill="#86d5fd"/><rect x="502.3" y="1078.7" width="98.0" height="18.0" fill="#aef3fd"/><rect x="600.3" y="1078.7" width="98.0" height="18.0" fill="#ffea00"/><rect x="698.3" y="1078.7" width="98.0" height="18.0" fill="#ff9500"/><rect x="796.3" y="1078.7" width="98.0" height="18.0" fill="#ff0000"/><path d="M894.3,1078.7L991.7,1087.7L894.3,1096.7Z" fill="#9e0000"/></g><text x="306.3" y="1114.9" font-size="14.9" text-anchor="middle">-0.3</text><text x="404.3" y="1114.9" font-size="14.9" text-anchor="middle">-0.2</text><text x="502.3" y="1114.9" font-size="14.9" text-anchor="middle">-0.1</text><text x="600.3" y="1114.9" font-size="14.9" text-anchor="middle">0</text><text x="698.3" y="1114.9" font-size="14.9" text-anchor="middle">0.1</text><text x="796.3" y="1114.9" font-size="14.9" text-anchor="middle">0.2</text><text x="894.3" y="1114.9" font-size="14.9" text-anchor="middle">0.3</text>
</svg></body></html>
